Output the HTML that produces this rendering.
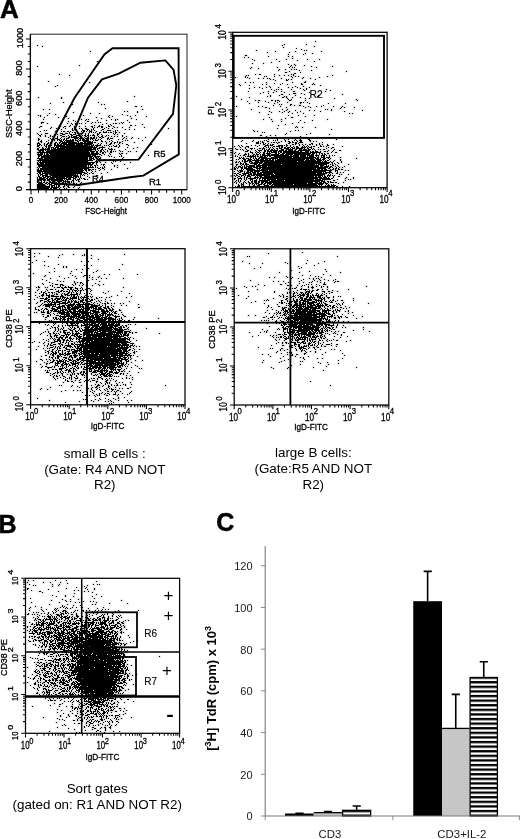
<!DOCTYPE html>
<html><head><meta charset="utf-8"><title>Figure</title>
<style>
html,body{margin:0;padding:0;background:#fff;}
body{width:520px;height:839px;overflow:hidden;}
svg{display:block;font-family:"Liberation Sans", Arial, Helvetica, sans-serif;}
.ax text{stroke:#000;stroke-width:0.3px;}
</style></head><body>
<svg width="520" height="839" viewBox="0 0 520 839">
<rect width="520" height="839" fill="#fff"/>
<g stroke="#000" stroke-width="0.5">
<text transform="translate(0.1 17.5) scale(1.04 1)" font-size="25" font-weight="bold">A</text>
<text x="-1.5" y="532.5" font-size="25" text-anchor="start" font-weight="bold" fill="#000">B</text>
<text x="216.3" y="531.4" font-size="25" text-anchor="start" font-weight="bold" fill="#000">C</text>
</g>
<g id="p1">
<defs><path id="d1" d="M37 45h1M42 46h1M90 51h1M97 61h1M79 65h1M37 66h1M59 74h1M69 75h1M48 81h1M89 82h1M57 85h1M55 86h1M134 96h1M38 97h1M61 97h1M61 98h1M127 101h1M63 102h1M98 102h1M50 103h1M72 104h1M101 104h1M104 104h1M135 106h2M141 106h1M105 108h1M43 109h1M49 109h1M142 109h1M124 111h1M127 111h1M137 111h1M73 112h1M137 112h1M49 113h1M90 113h1M99 113h1M55 114h1M122 114h1M38 115h1M40 115h1M47 115h1M83 115h1M109 115h1M127 115h1M135 115h1M40 116h1M66 116h1M108 116h1M112 116h1M130 116h1M146 116h1M44 117h1M58 117h1M96 117h1M109 117h1M68 118h1M101 118h1M131 118h1M43 119h1M81 119h1M86 119h1M88 119h1M111 119h1M115 119h1M117 119h1M136 119h1M73 120h1M85 120h1M97 120h1M106 120h1M115 120h1M127 120h1M68 121h1M75 121h1M87 121h2M41 122h3M92 122h1M95 122h1M98 122h1M100 122h1M121 122h1M123 122h1M129 122h1M41 123h1M47 123h1M67 123h1M71 123h1M75 123h2M79 123h1M81 123h1M85 123h1M91 123h1M106 123h1M113 123h1M115 123h2M119 123h1M122 123h1M72 124h1M75 124h1M102 124h1M110 124h1M142 124h1M70 125h1M94 125h1M99 125h1M108 125h1M111 125h1M130 125h2M135 125h1M40 126h2M59 126h2M64 126h2M69 126h1M74 126h2M79 126h1M85 126h1M91 126h2M98 126h2M101 126h2M108 126h2M113 126h1M39 127h1M51 127h1M63 127h1M74 127h1M92 127h1M94 127h1M97 127h1M101 127h2M106 127h1M114 127h1M117 127h1M122 127h1M129 127h1M144 127h1M50 128h1M56 128h1M59 128h1M65 128h1M72 128h1M79 128h1M81 128h1M85 128h2M93 128h1M104 128h1M108 128h1M112 128h1M168 128h1M57 129h1M61 129h1M72 129h1M74 129h1M76 129h1M82 129h1M86 129h3M91 129h1M93 129h1M102 129h2M125 129h1M129 129h1M134 129h1M44 130h1M46 130h1M72 130h2M82 130h3M87 130h1M89 130h1M91 130h1M94 130h1M101 130h1M107 130h4M115 130h1M117 130h1M40 131h1M55 131h1M61 131h1M63 131h2M67 131h2M70 131h1M81 131h1M83 131h2M86 131h1M89 131h3M96 131h1M103 131h1M106 131h1M113 131h1M115 131h1M69 132h1M72 132h1M74 132h2M82 132h2M89 132h1M91 132h1M93 132h1M95 132h1M99 132h2M103 132h4M108 132h1M110 132h2M115 132h2M119 132h1M37 133h1M45 133h3M60 133h3M65 133h3M69 133h1M75 133h1M77 133h2M80 133h3M85 133h1M88 133h1M97 133h1M99 133h1M113 133h1M115 133h1M124 133h1M38 134h1M41 134h1M54 134h2M57 134h1M62 134h3M70 134h2M73 134h3M81 134h1M85 134h1M88 134h1M93 134h1M97 134h2M101 134h1M114 134h1M117 134h1M39 135h2M45 135h1M50 135h1M60 135h2M68 135h1M71 135h2M76 135h3M82 135h1M84 135h2M87 135h2M90 135h1M92 135h3M97 135h1M102 135h1M106 135h1M108 135h1M122 135h1M40 136h1M45 136h1M50 136h1M52 136h1M57 136h1M62 136h3M66 136h1M69 136h1M71 136h1M73 136h4M79 136h3M85 136h2M88 136h1M94 136h1M98 136h1M101 136h2M105 136h1M111 136h1M114 136h1M117 136h1M122 136h1M126 136h1M48 137h1M57 137h1M61 137h1M68 137h2M71 137h8M80 137h1M84 137h1M87 137h2M90 137h2M93 137h2M96 137h1M99 137h2M102 137h2M108 137h1M124 137h1M132 137h1M145 137h1M38 138h1M50 138h1M55 138h3M60 138h1M64 138h1M66 138h3M74 138h4M79 138h5M85 138h4M90 138h5M96 138h1M101 138h1M107 138h2M110 138h3M123 138h1M126 138h1M131 138h1M138 138h1M38 139h2M51 139h4M57 139h3M61 139h1M63 139h2M66 139h1M70 139h1M72 139h2M75 139h1M78 139h1M80 139h1M82 139h3M86 139h3M90 139h1M92 139h1M95 139h1M98 139h1M100 139h1M107 139h1M109 139h1M118 139h1M122 139h1M38 140h1M41 140h1M48 140h1M54 140h1M57 140h1M59 140h3M63 140h1M65 140h9M75 140h3M79 140h2M82 140h7M93 140h1M95 140h3M101 140h1M111 140h1M125 140h1M127 140h1M142 140h1M40 141h2M46 141h1M52 141h1M60 141h3M64 141h1M66 141h8M77 141h2M83 141h1M85 141h6M92 141h1M101 141h2M105 141h1M109 141h1M112 141h1M117 141h1M122 141h1M38 142h1M41 142h1M48 142h1M50 142h1M55 142h2M59 142h2M62 142h15M78 142h1M80 142h3M84 142h1M87 142h6M94 142h2M106 142h1M111 142h1M114 142h2M117 142h1M119 142h2M134 142h1M37 143h3M44 143h1M47 143h2M51 143h1M54 143h2M57 143h1M59 143h1M61 143h6M68 143h17M86 143h7M98 143h1M101 143h1M106 143h1M110 143h2M114 143h1M119 143h1M122 143h1M37 144h1M39 144h2M44 144h1M46 144h2M54 144h2M57 144h2M60 144h2M63 144h12M76 144h7M84 144h8M93 144h1M97 144h1M100 144h1M109 144h2M118 144h1M126 144h2M151 144h1M37 145h3M41 145h1M44 145h1M46 145h1M48 145h4M54 145h11M66 145h22M89 145h1M91 145h3M95 145h6M104 145h1M106 145h1M108 145h1M113 145h1M116 145h1M119 145h1M128 145h1M37 146h2M45 146h2M48 146h2M54 146h1M56 146h31M88 146h5M94 146h1M96 146h2M102 146h1M109 146h1M111 146h1M114 146h3M119 146h1M39 147h1M42 147h1M46 147h1M51 147h3M55 147h4M60 147h37M99 147h6M118 147h1M127 147h1M137 147h1M37 148h2M42 148h2M45 148h1M47 148h3M51 148h1M53 148h3M57 148h35M93 148h3M97 148h3M102 148h1M108 148h1M111 148h1M133 148h1M37 149h2M40 149h10M51 149h45M97 149h1M101 149h2M105 149h1M109 149h4M114 149h1M125 149h1M38 150h6M45 150h1M47 150h1M49 150h43M95 150h1M98 150h1M100 150h2M103 150h1M107 150h1M111 150h1M119 150h1M39 151h2M42 151h2M46 151h1M48 151h41M90 151h5M96 151h2M100 151h2M104 151h1M107 151h1M110 151h2M113 151h1M115 151h1M120 151h1M122 151h1M128 151h1M130 151h1M136 151h1M37 152h53M91 152h1M93 152h1M96 152h2M100 152h1M102 152h2M105 152h1M110 152h2M38 153h1M40 153h3M44 153h1M47 153h1M49 153h41M91 153h2M94 153h5M102 153h2M109 153h1M119 153h1M121 153h2M126 153h1M37 154h6M44 154h1M46 154h1M48 154h1M50 154h48M99 154h2M104 154h1M110 154h1M120 154h1M38 155h4M43 155h48M92 155h2M101 155h1M108 155h1M121 155h1M148 155h1M38 156h2M41 156h52M94 156h2M97 156h3M109 156h1M111 156h1M119 156h1M121 156h1M38 157h1M41 157h47M89 157h3M93 157h1M95 157h1M98 157h1M100 157h1M114 157h1M123 157h1M37 158h6M44 158h44M89 158h5M99 158h2M122 158h1M39 159h49M89 159h3M93 159h2M97 159h3M104 159h1M110 159h1M37 160h56M96 160h1M101 160h2M113 160h1M117 160h1M38 161h1M40 161h1M42 161h46M95 161h3M99 161h1M113 161h1M115 161h1M120 161h1M37 162h1M39 162h56M96 162h2M100 162h1M105 162h1M111 162h1M130 162h1M37 163h2M40 163h4M45 163h46M92 163h2M96 163h1M112 163h1M37 164h56M96 164h1M101 164h1M103 164h2M124 164h1M38 165h49M88 165h1M90 165h2M94 165h2M97 165h1M103 165h1M114 165h1M117 165h1M38 166h49M88 166h1M90 166h1M92 166h1M95 166h1M104 166h1M114 166h1M37 167h1M39 167h1M42 167h52M95 167h1M97 167h1M100 167h1M102 167h1M104 167h1M117 167h1M38 168h1M40 168h49M98 168h2M102 168h2M127 168h1M37 169h2M40 169h43M84 169h3M88 169h3M92 169h2M95 169h1M100 169h1M104 169h1M111 169h1M37 170h5M43 170h41M85 170h2M88 170h2M91 170h1M99 170h1M37 171h46M86 171h1M92 171h1M95 171h1M38 172h3M42 172h1M44 172h41M87 172h1M91 172h1M107 172h1M37 173h1M39 173h2M42 173h40M84 173h3M89 173h1M92 173h2M101 173h1M38 174h1M40 174h3M45 174h3M49 174h27M77 174h1M80 174h2M83 174h1M87 174h1M38 175h1M40 175h1M42 175h6M50 175h28M80 175h1M82 175h1M84 175h1M96 175h2M38 176h2M42 176h2M45 176h6M52 176h20M73 176h6M80 176h1M87 176h1M93 176h1M96 176h1M37 177h1M39 177h3M43 177h3M47 177h2M50 177h15M66 177h8M75 177h2M78 177h1M80 177h1M89 177h1M37 178h1M39 178h6M46 178h2M49 178h4M56 178h11M68 178h3M73 178h3M79 178h1M81 178h1M83 178h2M37 179h9M47 179h16M64 179h1M66 179h5M73 179h1M75 179h1M77 179h3M84 179h2M87 179h1M37 180h5M43 180h3M47 180h3M51 180h13M65 180h1M67 180h1M72 180h2M76 180h1M78 180h1M101 180h1M37 181h2M41 181h1M44 181h1M49 181h2M52 181h3M57 181h5M63 181h7M71 181h1M73 181h1M78 181h2M37 182h5M43 182h2M46 182h2M49 182h5M56 182h1M58 182h2M62 182h2M65 182h1M67 182h3M71 182h1M73 182h1M81 182h1M38 183h5M45 183h2M48 183h2M51 183h6M58 183h1M60 183h3M65 183h2M69 183h1M73 183h2M76 183h1M80 183h1M37 184h8M47 184h1M49 184h3M54 184h5M60 184h1M63 184h2M68 184h1M80 184h2M37 185h9M49 185h1M51 185h4M56 185h1M58 185h2M64 185h1M66 185h1M68 185h1M79 185h1M37 186h13M51 186h2M54 186h1M56 186h1M58 186h2M63 186h2M67 186h2M74 186h1M37 187h13M51 187h8M60 187h1M63 187h1M68 187h2M73 187h1M79 187h1M37 188h12M50 188h2M53 188h4M59 188h1M64 188h1M66 188h1M78 188h1"/></defs><use href="#d1" fill="none" stroke="#000" stroke-width="2.2" stroke-linecap="square" opacity="0.13" transform="translate(0,0.5)"/><use href="#d1" fill="none" stroke="#000" stroke-width="1" transform="translate(0,0.5)" shape-rendering="crispEdges"/>
<rect x="30.4" y="34.2" width="156.6" height="155.5" fill="none" stroke="#222" stroke-width="1.0"/>
<path d="M30.4 34.2V189.7H187.0" fill="none" stroke="#000" stroke-width="1.25"/>
<g class="ax">
<path d="M31.0 189.7v4.8M30.4 189.6h-4.3999999999999995M38.5 189.7v3.0M30.4 182.1h-2.6M46.1 189.7v3.0M30.4 174.5h-2.6M53.6 189.7v3.0M30.4 167.0h-2.6M61.1 189.7v4.8M30.4 159.5h-4.3999999999999995M68.7 189.7v3.0M30.4 151.9h-2.6M76.2 189.7v3.0M30.4 144.4h-2.6M83.7 189.7v3.0M30.4 136.9h-2.6M91.3 189.7v4.8M30.4 129.3h-4.3999999999999995M98.8 189.7v3.0M30.4 121.8h-2.6M106.3 189.7v3.0M30.4 114.2h-2.6M113.9 189.7v3.0M30.4 106.7h-2.6M121.4 189.7v4.8M30.4 99.2h-4.3999999999999995M129.0 189.7v3.0M30.4 91.6h-2.6M136.5 189.7v3.0M30.4 84.1h-2.6M144.0 189.7v3.0M30.4 76.6h-2.6M151.6 189.7v4.8M30.4 69.0h-4.3999999999999995M159.1 189.7v3.0M30.4 61.5h-2.6M166.6 189.7v3.0M30.4 54.0h-2.6M174.2 189.7v3.0M30.4 46.4h-2.6M181.7 189.7v4.8M30.4 38.9h-4.3999999999999995" stroke="#000" stroke-width="1.05" fill="none"/>
<text transform="translate(31.0 202.9) scale(0.83 1)" font-size="9.8" text-anchor="middle">0</text>
<text x="22.5" y="188.7" font-size="9.2" text-anchor="middle" transform="rotate(-90 22.5 188.7)">0</text>
<text transform="translate(61.1 202.9) scale(0.83 1)" font-size="9.8" text-anchor="middle">200</text>
<text x="22.5" y="158.6" font-size="9.2" text-anchor="middle" transform="rotate(-90 22.5 158.6)">200</text>
<text transform="translate(91.3 202.9) scale(0.83 1)" font-size="9.8" text-anchor="middle">400</text>
<text x="22.5" y="128.4" font-size="9.2" text-anchor="middle" transform="rotate(-90 22.5 128.4)">400</text>
<text transform="translate(121.4 202.9) scale(0.83 1)" font-size="9.8" text-anchor="middle">600</text>
<text x="22.5" y="98.3" font-size="9.2" text-anchor="middle" transform="rotate(-90 22.5 98.3)">600</text>
<text transform="translate(151.6 202.9) scale(0.83 1)" font-size="9.8" text-anchor="middle">800</text>
<text x="22.5" y="68.1" font-size="9.2" text-anchor="middle" transform="rotate(-90 22.5 68.1)">800</text>
<text transform="translate(181.7 202.9) scale(0.83 1)" font-size="9.8" text-anchor="middle">1000</text>
<text x="22.5" y="38.0" font-size="9.2" text-anchor="middle" transform="rotate(-90 22.5 38.0)">1000</text>
<text transform="translate(106 214.2) scale(0.86 1)" font-size="9.3" text-anchor="middle">FSC-Height</text>
<text x="12.0" y="113.8" font-size="9.2" text-anchor="middle" font-weight="normal" fill="#000" transform="rotate(-90 12.0 113.8)">SSC-Height</text>
<polygon points="112.5,48.3 178.6,48.3 178.8,154.4 143.3,175.6 130,177.3 78,185 55,183.5 47,152 53.5,138 74.6,97.7 104.4,54.4" fill="none" stroke="#000" stroke-width="1.9" stroke-linejoin="miter"/>
<polygon points="102,79.4 118.8,73.6 140.4,62.7 165.4,60.4 173.6,70 176.3,85.4 173,113.8 138.5,159.6 98.3,160.3 75,128.7 88,97.7" fill="none" stroke="#000" stroke-width="1.9" stroke-linejoin="miter"/>
<text x="153.5" y="157.3" font-size="9.5" text-anchor="start" font-weight="normal" fill="#000">R5</text>
<text x="149" y="184.6" font-size="9.5" text-anchor="start" font-weight="normal" fill="#000">R1</text>
<text x="92" y="181.5" font-size="9.5" text-anchor="start" font-weight="normal" fill="#000">R4</text>
</g></g>
<g id="p2">
<defs><path id="d2" d="M315 41h1M284 44h1M306 44h1M282 45h1M314 46h1M283 47h1M296 48h1M301 49h1M256 50h1M304 50h1M306 50h1M275 51h1M295 51h1M321 51h1M267 52h1M289 52h1M305 53h1M312 53h1M288 54h1M303 54h1M245 55h2M268 56h1M288 56h1M292 56h1M244 57h1M248 57h1M292 58h1M252 59h1M276 59h1M286 59h1M307 59h1M319 59h1M254 60h1M297 60h1M279 61h1M314 61h1M271 62h1M252 63h1M263 63h1M288 64h1M294 64h1M291 65h1M295 65h1M304 65h1M290 66h1M311 66h1M332 66h1M251 67h1M277 67h1M289 67h1M292 67h1M294 67h1M316 67h1M250 68h1M258 68h1M279 69h1M285 69h1M291 69h1M294 69h1M296 69h1M278 70h1M299 70h1M311 70h1M289 71h1M346 71h1M285 72h2M300 72h1M294 73h2M255 74h1M259 74h2M274 74h1M291 74h1M293 74h1M246 75h1M248 75h1M279 75h1M284 75h1M288 75h1M293 75h1M332 75h1M245 76h1M264 76h1M266 76h1M274 76h1M291 76h1M295 76h1M298 76h1M327 76h1M235 77h1M245 77h1M247 77h1M292 77h1M303 77h1M319 77h1M249 78h1M258 78h1M263 78h1M267 78h1M269 78h1M281 78h1M302 78h1M310 78h1M270 79h1M273 79h1M286 79h1M288 79h1M291 79h1M315 79h1M275 80h1M286 80h2M305 81h1M245 82h1M250 82h1M253 82h1M266 82h1M292 82h1M304 82h2M274 83h1M282 83h1M301 83h1M313 83h1M239 84h1M262 84h1M266 84h1M280 84h1M287 84h1M301 84h2M312 84h1M314 84h1M240 85h1M249 85h1M320 85h1M269 86h1M295 86h1M303 86h1M254 87h1M259 87h1M266 87h1M270 87h1M278 87h1M288 87h1M292 87h1M297 87h1M309 87h1M249 88h1M262 88h1M300 88h1M306 88h1M271 89h1M276 89h1M278 89h1M281 89h1M291 89h1M303 89h1M306 89h1M326 89h1M274 90h1M304 90h1M330 90h1M248 91h1M268 91h1M276 91h1M281 91h1M293 91h2M325 91h1M263 92h1M273 92h1M284 92h1M309 92h1M260 93h1M268 93h1M293 93h3M301 93h1M281 94h2M289 94h1M304 94h1M342 94h1M270 95h1M279 95h1M295 95h1M318 95h1M236 96h1M267 96h1M270 96h1M284 96h1M286 96h1M317 96h1M249 97h1M282 97h2M286 97h1M292 97h1M300 97h1M287 98h1M305 98h1M309 98h1M334 98h1M241 99h1M288 99h1M291 99h1M356 99h1M255 100h1M258 100h2M271 100h2M275 100h1M277 100h2M289 100h2M305 100h1M357 100h1M247 101h1M265 101h1M275 101h1M279 101h1M258 102h1M268 102h1M277 102h1M287 102h1M300 102h2M303 102h1M307 102h1M249 103h1M274 103h1M300 103h1M309 103h1M328 103h1M345 103h1M279 104h1M281 104h1M290 104h2M273 105h1M290 105h1M294 105h1M299 105h2M323 105h1M236 106h1M258 106h1M262 106h1M280 106h1M303 106h1M308 106h1M316 106h1M321 106h1M333 106h1M342 106h1M265 107h2M286 107h1M305 107h1M310 107h1M341 107h1M344 107h1M354 107h1M269 108h1M340 108h1M251 109h1M282 109h1M287 109h1M325 109h1M327 109h1M331 109h1M286 110h1M295 110h1M309 110h1M314 110h1M331 110h1M362 110h1M269 111h1M279 111h1M284 111h1M289 111h1M300 111h1M320 111h1M344 111h1M259 112h1M271 112h1M282 112h1M288 112h1M297 112h1M292 113h1M303 113h1M349 113h1M352 113h1M268 114h1M288 115h1M298 115h1M314 115h1M236 116h1M305 116h1M269 117h1M291 117h2M285 118h1M263 119h1M271 119h1M281 119h1M327 119h1M300 120h1M312 120h1M272 121h1M281 121h1M298 122h1M304 122h1M292 123h1M285 124h1M278 125h1M296 126h1M295 127h1M297 127h1M302 127h1M315 127h1M277 128h1M331 129h1M253 130h1M295 130h1M298 130h1M254 131h1M257 131h1M290 131h1M262 132h1M264 132h1M286 133h1M310 133h1M285 134h1M306 134h1M329 134h1M260 135h2M270 135h1M275 135h1M266 136h1M300 136h1M286 137h1M288 137h1M290 137h1M293 137h1M296 137h1M298 137h1M302 137h1M306 137h1M317 137h1M272 138h1M276 138h2M292 138h1M294 138h1M299 138h1M307 138h1M309 138h1M317 138h1M268 139h1M277 139h1M284 139h1M288 139h1M295 139h1M300 139h1M308 139h2M336 139h1M242 140h1M253 140h1M264 140h1M266 140h1M273 140h1M275 140h1M277 140h1M285 140h1M294 140h1M296 140h1M299 140h3M309 140h2M241 141h1M252 141h1M258 141h1M260 141h1M262 141h1M267 141h2M281 141h1M285 141h1M288 141h2M292 141h1M297 141h1M300 141h2M310 141h1M313 141h1M316 141h1M256 142h3M262 142h2M271 142h1M273 142h2M276 142h1M278 142h2M289 142h2M292 142h2M295 142h2M299 142h4M322 142h1M246 143h1M256 143h3M260 143h1M263 143h1M265 143h1M268 143h1M277 143h1M288 143h2M295 143h2M298 143h1M311 143h2M319 143h1M263 144h2M267 144h1M270 144h1M272 144h2M286 144h1M292 144h2M295 144h1M299 144h1M302 144h1M305 144h1M309 144h2M312 144h1M316 144h1M319 144h1M322 144h1M327 144h1M333 144h1M238 145h1M241 145h1M251 145h1M255 145h1M259 145h1M265 145h4M270 145h3M278 145h5M284 145h1M286 145h2M290 145h1M299 145h1M303 145h1M307 145h1M316 145h1M320 145h1M327 145h2M234 146h1M239 146h1M242 146h1M246 146h3M257 146h1M264 146h2M268 146h1M273 146h2M276 146h4M281 146h2M286 146h1M290 146h1M293 146h1M296 146h2M302 146h1M304 146h1M306 146h1M308 146h1M311 146h1M313 146h2M320 146h2M323 146h1M326 146h1M342 146h1M240 147h1M245 147h1M248 147h1M263 147h1M266 147h1M268 147h1M270 147h1M272 147h1M279 147h1M281 147h2M284 147h2M287 147h3M291 147h2M294 147h1M296 147h3M301 147h5M307 147h1M309 147h3M318 147h1M328 147h1M332 147h2M235 148h1M245 148h1M250 148h3M254 148h1M259 148h2M262 148h3M269 148h1M273 148h1M276 148h2M279 148h3M284 148h5M290 148h1M292 148h3M296 148h7M304 148h1M307 148h2M311 148h1M313 148h1M326 148h1M331 148h1M236 149h2M240 149h1M242 149h1M246 149h1M251 149h1M257 149h1M262 149h1M264 149h1M266 149h1M268 149h2M271 149h2M274 149h1M277 149h1M281 149h3M286 149h7M295 149h2M299 149h3M303 149h4M308 149h3M312 149h1M314 149h1M318 149h1M320 149h1M323 149h2M334 149h1M243 150h1M247 150h2M255 150h1M258 150h4M264 150h2M267 150h2M270 150h8M279 150h5M285 150h2M288 150h5M294 150h2M298 150h12M315 150h1M328 150h1M333 150h1M339 150h2M245 151h3M250 151h1M256 151h1M259 151h1M264 151h2M267 151h5M273 151h4M278 151h4M283 151h16M300 151h2M305 151h4M310 151h1M312 151h2M315 151h3M320 151h1M324 151h2M327 151h1M332 151h1M235 152h1M250 152h3M255 152h1M257 152h2M260 152h1M263 152h2M267 152h1M269 152h1M271 152h6M278 152h1M280 152h2M283 152h26M310 152h11M331 152h1M335 152h2M234 153h1M239 153h1M245 153h1M248 153h1M252 153h1M256 153h1M259 153h1M263 153h2M266 153h5M275 153h2M278 153h2M282 153h3M286 153h25M312 153h3M316 153h1M319 153h1M321 153h2M324 153h1M327 153h2M238 154h1M244 154h3M248 154h1M253 154h2M256 154h3M260 154h1M262 154h3M267 154h3M271 154h8M280 154h4M285 154h8M294 154h16M311 154h3M316 154h1M319 154h1M322 154h1M324 154h2M235 155h1M240 155h1M243 155h2M248 155h1M250 155h1M252 155h2M255 155h1M257 155h1M260 155h1M262 155h27M290 155h2M293 155h6M300 155h6M307 155h7M315 155h4M321 155h4M326 155h1M329 155h1M332 155h1M334 155h1M235 156h1M237 156h1M245 156h1M247 156h9M257 156h2M260 156h3M264 156h2M267 156h1M269 156h2M274 156h25M300 156h6M307 156h1M309 156h5M316 156h1M318 156h1M321 156h1M323 156h2M329 156h1M239 157h1M241 157h1M243 157h1M250 157h2M253 157h1M255 157h1M259 157h8M271 157h21M293 157h23M317 157h2M321 157h4M326 157h4M340 157h1M239 158h2M242 158h3M246 158h3M250 158h1M253 158h1M255 158h2M258 158h2M261 158h17M279 158h35M315 158h4M320 158h1M323 158h3M328 158h1M330 158h1M356 158h1M236 159h1M238 159h1M243 159h3M248 159h4M254 159h1M256 159h3M260 159h4M265 159h3M269 159h2M272 159h2M275 159h1M277 159h28M306 159h3M310 159h5M316 159h5M322 159h3M329 159h1M340 159h1M242 160h1M244 160h2M247 160h4M252 160h22M275 160h29M305 160h11M317 160h5M323 160h1M325 160h1M327 160h2M334 160h1M340 160h1M236 161h1M239 161h1M242 161h1M244 161h4M249 161h3M255 161h4M260 161h37M298 161h23M322 161h1M324 161h3M330 161h1M333 161h1M341 161h1M235 162h2M238 162h1M240 162h1M244 162h2M249 162h1M251 162h2M254 162h9M264 162h66M331 162h2M337 162h1M341 162h1M240 163h2M243 163h1M245 163h2M250 163h8M259 163h3M263 163h66M332 163h1M334 163h1M338 163h1M236 164h2M240 164h1M242 164h2M245 164h4M254 164h3M258 164h2M262 164h19M282 164h33M316 164h1M318 164h9M330 164h1M332 164h1M335 164h1M348 164h1M236 165h1M241 165h1M244 165h1M246 165h1M249 165h6M256 165h63M320 165h4M326 165h1M328 165h1M332 165h2M337 165h1M235 166h1M238 166h3M242 166h1M244 166h1M246 166h9M256 166h5M262 166h5M268 166h51M320 166h3M324 166h5M330 166h2M335 166h1M338 166h1M344 166h1M234 167h1M236 167h1M238 167h1M240 167h3M244 167h3M248 167h4M253 167h5M259 167h69M329 167h2M332 167h1M336 167h1M339 167h1M342 167h1M234 168h2M237 168h1M241 168h2M244 168h9M256 168h5M262 168h54M317 168h9M328 168h2M333 168h1M335 168h2M338 168h1M234 169h2M241 169h1M243 169h1M246 169h9M257 169h1M259 169h1M261 169h59M321 169h2M324 169h3M330 169h1M332 169h2M335 169h1M338 169h2M341 169h2M237 170h1M239 170h4M247 170h21M269 170h43M313 170h19M335 170h3M345 170h1M348 170h1M234 171h1M238 171h1M240 171h3M244 171h1M247 171h2M250 171h3M254 171h6M262 171h64M329 171h2M335 171h1M337 171h1M239 172h2M244 172h1M246 172h5M252 172h4M257 172h2M260 172h62M323 172h1M325 172h7M337 172h1M340 172h1M343 172h1M234 173h2M237 173h2M242 173h7M250 173h2M253 173h3M257 173h5M263 173h10M274 173h42M317 173h10M329 173h1M332 173h1M336 173h2M236 174h1M239 174h2M243 174h3M248 174h4M253 174h21M275 174h50M328 174h1M330 174h1M339 174h1M341 174h1M348 174h1M234 175h1M236 175h2M241 175h3M245 175h1M247 175h3M251 175h4M256 175h14M271 175h52M324 175h1M327 175h4M332 175h1M334 175h1M235 176h1M238 176h2M241 176h1M244 176h1M247 176h4M255 176h1M257 176h1M259 176h3M264 176h50M315 176h2M318 176h3M322 176h1M324 176h2M327 176h1M329 176h1M333 176h1M338 176h2M237 177h1M240 177h1M244 177h1M246 177h2M250 177h1M254 177h5M260 177h62M323 177h4M328 177h1M333 177h1M346 177h1M353 177h1M234 178h2M238 178h4M244 178h1M246 178h1M248 178h8M257 178h1M259 178h2M262 178h56M319 178h11M331 178h2M345 178h1M353 178h1M234 179h1M238 179h1M241 179h1M244 179h1M246 179h1M250 179h3M256 179h1M259 179h1M262 179h1M264 179h2M267 179h9M277 179h37M315 179h6M322 179h9M337 179h1M348 179h1M350 179h1M236 180h1M238 180h1M240 180h1M245 180h1M250 180h1M252 180h1M254 180h3M259 180h11M271 180h13M285 180h38M324 180h1M333 180h2M345 180h1M235 181h1M238 181h1M240 181h1M244 181h1M248 181h1M251 181h2M254 181h3M258 181h2M261 181h7M269 181h51M321 181h4M327 181h2M330 181h1M234 182h1M236 182h1M239 182h1M243 182h1M245 182h1M248 182h2M251 182h2M254 182h3M258 182h2M261 182h3M265 182h48M315 182h3M319 182h3M323 182h3M328 182h1M330 182h4M335 182h2M343 182h1M236 183h1M241 183h1M243 183h1M246 183h1M249 183h2M252 183h2M255 183h4M261 183h2M264 183h2M267 183h5M273 183h34M308 183h16M325 183h3M338 183h1M238 184h1M241 184h3M249 184h1M252 184h1M254 184h1M256 184h1M258 184h4M263 184h2M267 184h1M269 184h2M272 184h21M294 184h23M318 184h5M326 184h1M328 184h1M331 184h1M333 184h1M238 185h2M241 185h1M243 185h1M249 185h1M253 185h2M257 185h3M264 185h5M271 185h2M274 185h44M319 185h1M321 185h1M325 185h1M327 185h3M331 185h5M235 186h1M237 186h3M241 186h94M336 186h2M342 186h1M349 186h1"/></defs><use href="#d2" fill="none" stroke="#000" stroke-width="2.2" stroke-linecap="square" opacity="0.13" transform="translate(0,0.5)"/><use href="#d2" fill="none" stroke="#000" stroke-width="1" transform="translate(0,0.5)" shape-rendering="crispEdges"/>
<rect x="232.7" y="32.3" width="154.40000000000003" height="155.39999999999998" fill="none" stroke="#000" stroke-width="1.25"/>
<path d="M232.7 187.7v4.3M232.7 187.7h-4.3M244.3 187.7v2.5M232.7 176.0h-2.5M251.1 187.7v2.5M232.7 169.2h-2.5M255.9 187.7v2.5M232.7 164.3h-2.5M259.7 187.7v2.5M232.7 160.5h-2.5M262.7 187.7v2.5M232.7 157.5h-2.5M265.3 187.7v2.5M232.7 154.9h-2.5M267.6 187.7v2.5M232.7 152.6h-2.5M269.5 187.7v2.5M232.7 150.6h-2.5M271.3 187.7v4.3M232.7 148.8h-4.3M282.9 187.7v2.5M232.7 137.2h-2.5M289.7 187.7v2.5M232.7 130.3h-2.5M294.5 187.7v2.5M232.7 125.5h-2.5M298.3 187.7v2.5M232.7 121.7h-2.5M301.3 187.7v2.5M232.7 118.6h-2.5M303.9 187.7v2.5M232.7 116.0h-2.5M306.2 187.7v2.5M232.7 113.8h-2.5M308.1 187.7v2.5M232.7 111.8h-2.5M309.9 187.7v4.3M232.7 110.0h-4.3M321.5 187.7v2.5M232.7 98.3h-2.5M328.3 187.7v2.5M232.7 91.5h-2.5M333.1 187.7v2.5M232.7 86.6h-2.5M336.9 187.7v2.5M232.7 82.8h-2.5M339.9 187.7v2.5M232.7 79.8h-2.5M342.5 187.7v2.5M232.7 77.2h-2.5M344.8 187.7v2.5M232.7 74.9h-2.5M346.7 187.7v2.5M232.7 72.9h-2.5M348.5 187.7v4.3M232.7 71.2h-4.3M360.1 187.7v2.5M232.7 59.5h-2.5M366.9 187.7v2.5M232.7 52.6h-2.5M371.7 187.7v2.5M232.7 47.8h-2.5M375.5 187.7v2.5M232.7 44.0h-2.5M378.5 187.7v2.5M232.7 40.9h-2.5M381.1 187.7v2.5M232.7 38.3h-2.5M383.4 187.7v2.5M232.7 36.1h-2.5M385.3 187.7v2.5M232.7 34.1h-2.5M387.1 187.7v4.3M232.7 32.3h-4.3" stroke="#000" stroke-width="1.05" fill="none"/>
<g class="ax">
<text transform="translate(236.0 203.2) scale(0.82 1)" font-size="10.0" text-anchor="end">10</text>
<text transform="translate(235.6 196.4) scale(0.9 1)" font-size="8.6">0</text>
<text transform="translate(225.8 195.1) rotate(-90) scale(0.85 1)" font-size="10.0">10</text>
<text transform="translate(220.7 183.9) rotate(-90) scale(0.88 1)" font-size="9.0">0</text>
<text transform="translate(274.2 203.2) scale(0.82 1)" font-size="10.0" text-anchor="end">10</text>
<text transform="translate(273.8 196.4) scale(0.9 1)" font-size="8.6">1</text>
<text transform="translate(225.8 156.2) rotate(-90) scale(0.85 1)" font-size="10.0">10</text>
<text transform="translate(220.7 145.0) rotate(-90) scale(0.88 1)" font-size="9.0">1</text>
<text transform="translate(312.3 203.2) scale(0.82 1)" font-size="10.0" text-anchor="end">10</text>
<text transform="translate(311.9 196.4) scale(0.9 1)" font-size="8.6">2</text>
<text transform="translate(225.8 117.4) rotate(-90) scale(0.85 1)" font-size="10.0">10</text>
<text transform="translate(220.7 106.2) rotate(-90) scale(0.88 1)" font-size="9.0">2</text>
<text transform="translate(350.4 203.2) scale(0.82 1)" font-size="10.0" text-anchor="end">10</text>
<text transform="translate(350.0 196.4) scale(0.9 1)" font-size="8.6">3</text>
<text transform="translate(225.8 78.6) rotate(-90) scale(0.85 1)" font-size="10.0">10</text>
<text transform="translate(220.7 67.4) rotate(-90) scale(0.88 1)" font-size="9.0">3</text>
<text transform="translate(388.6 203.2) scale(0.82 1)" font-size="10.0" text-anchor="end">10</text>
<text transform="translate(388.2 196.4) scale(0.9 1)" font-size="8.6">4</text>
<text transform="translate(225.8 39.7) rotate(-90) scale(0.85 1)" font-size="10.0">10</text>
<text transform="translate(220.7 28.5) rotate(-90) scale(0.88 1)" font-size="9.0">4</text>
<text x="214.0" y="110.5" font-size="9.5" text-anchor="middle" transform="rotate(-90 214.0 110.5)">PI</text>
<text transform="translate(308.8 213.7) scale(0.88 1)" font-size="9.1" text-anchor="middle">IgD-FITC</text>
</g>
<rect x="233.7" y="35.8" width="150.3" height="102.10000000000001" fill="none" stroke="#000" stroke-width="1.9"/>
<text x="309.5" y="98.3" font-size="10.3" text-anchor="start" font-weight="normal" fill="#000" stroke="#000" stroke-width="0.15">R2</text>
</g>
<g id="p3">
<defs><path id="d3" d="M34 253h1M39 253h1M62 254h1M73 254h1M84 254h1M124 254h1M59 255h1M82 255h1M84 255h1M91 255h1M34 256h1M48 256h1M58 257h1M87 257h1M91 258h1M98 259h1M36 260h1M44 261h1M81 261h1M88 261h1M32 262h1M58 264h1M122 264h1M44 265h1M84 265h1M91 265h1M48 266h1M63 266h1M66 266h1M63 267h1M66 267h1M54 268h1M86 268h1M88 268h1M76 269h1M82 269h1M119 269h1M97 270h1M54 271h1M71 271h1M96 271h1M49 272h1M81 272h1M93 272h1M33 273h1M70 273h1M104 274h1M109 274h1M137 274h1M45 275h1M72 275h1M84 275h2M89 275h1M44 276h1M59 276h1M75 276h1M83 276h1M99 276h1M68 277h1M89 277h1M92 277h1M98 277h1M50 278h1M64 278h1M76 278h1M101 278h1M106 278h1M123 278h1M42 279h1M92 279h1M96 279h1M46 280h1M57 280h1M88 280h1M60 281h1M63 281h1M74 281h1M87 281h1M99 281h1M49 282h1M74 282h1M77 282h1M80 282h2M42 283h1M52 283h1M75 283h1M80 283h1M82 283h1M95 283h1M43 284h1M55 284h3M60 284h3M72 284h1M75 284h1M83 284h1M98 284h1M103 284h1M50 285h1M52 285h1M60 285h1M62 285h2M73 285h1M79 285h1M82 285h1M86 285h1M92 285h1M99 285h1M38 286h1M52 286h1M60 286h1M65 286h1M68 286h1M36 287h1M38 287h2M45 287h1M47 287h1M54 287h1M57 287h3M61 287h2M64 287h3M68 287h5M75 287h1M81 287h1M123 287h1M62 288h2M70 288h2M75 288h3M80 288h1M82 288h1M88 288h2M38 289h1M46 289h1M50 289h3M55 289h1M63 289h1M67 289h2M70 289h2M73 289h1M77 289h1M82 289h1M85 289h1M90 289h1M37 290h1M47 290h1M58 290h1M61 290h2M69 290h1M72 290h1M74 290h3M78 290h1M80 290h2M83 290h1M87 290h1M91 290h1M41 291h1M45 291h1M56 291h3M60 291h2M63 291h2M66 291h2M69 291h1M72 291h1M75 291h1M77 291h1M80 291h1M90 291h1M108 291h1M121 291h1M35 292h1M41 292h1M43 292h2M48 292h2M51 292h2M54 292h1M58 292h2M68 292h2M71 292h1M73 292h1M76 292h1M80 292h1M103 292h1M39 293h1M43 293h1M45 293h2M52 293h1M56 293h1M62 293h1M64 293h1M67 293h2M71 293h1M76 293h2M80 293h1M84 293h1M89 293h1M105 293h1M129 293h1M42 294h2M46 294h1M49 294h1M54 294h1M56 294h2M61 294h1M64 294h4M70 294h8M79 294h1M91 294h1M35 295h1M41 295h3M46 295h4M51 295h3M61 295h2M65 295h1M67 295h3M71 295h1M73 295h2M77 295h1M85 295h1M117 295h1M39 296h1M42 296h1M48 296h2M51 296h8M60 296h4M71 296h1M73 296h2M76 296h1M78 296h1M81 296h1M84 296h1M86 296h3M90 296h1M92 296h1M111 296h1M131 296h1M37 297h1M46 297h1M48 297h2M56 297h1M60 297h1M62 297h4M67 297h1M70 297h1M72 297h5M78 297h1M80 297h1M82 297h4M91 297h1M96 297h1M99 297h1M101 297h1M106 297h1M109 297h1M126 297h1M40 298h4M45 298h3M51 298h2M55 298h6M62 298h1M64 298h1M66 298h3M70 298h7M78 298h1M81 298h1M83 298h1M88 298h1M96 298h2M34 299h1M44 299h3M48 299h2M52 299h1M54 299h2M57 299h3M61 299h1M63 299h1M65 299h2M69 299h2M72 299h1M78 299h2M82 299h2M85 299h1M89 299h1M91 299h2M94 299h1M105 299h1M40 300h3M47 300h2M52 300h2M56 300h2M62 300h5M68 300h1M71 300h1M73 300h1M75 300h1M80 300h4M85 300h3M90 300h3M98 300h1M101 300h1M110 300h1M40 301h1M44 301h3M48 301h3M52 301h1M54 301h1M56 301h6M65 301h1M68 301h2M71 301h2M74 301h3M78 301h1M80 301h3M86 301h5M96 301h1M99 301h1M105 301h1M129 301h1M37 302h1M44 302h1M47 302h1M49 302h1M51 302h9M62 302h4M67 302h3M71 302h1M74 302h5M80 302h1M82 302h3M91 302h1M94 302h1M100 302h1M107 302h1M36 303h1M42 303h1M48 303h1M50 303h2M54 303h2M59 303h9M70 303h1M73 303h2M78 303h2M83 303h1M85 303h2M88 303h2M93 303h1M97 303h1M102 303h1M104 303h2M107 303h2M111 303h1M114 303h1M120 303h1M123 303h1M41 304h1M44 304h12M57 304h3M65 304h1M68 304h7M76 304h17M94 304h1M99 304h1M105 304h1M138 304h1M40 305h1M43 305h1M45 305h7M53 305h1M55 305h1M59 305h1M62 305h3M66 305h8M75 305h1M77 305h4M82 305h1M85 305h4M91 305h9M102 305h1M105 305h1M111 305h1M121 305h1M126 305h1M38 306h2M45 306h5M52 306h4M58 306h7M67 306h3M71 306h2M74 306h10M85 306h1M87 306h2M90 306h8M100 306h2M105 306h1M107 306h2M113 306h1M35 307h1M49 307h1M52 307h1M56 307h5M62 307h1M64 307h2M67 307h4M72 307h9M82 307h2M85 307h2M88 307h6M95 307h2M98 307h3M103 307h3M107 307h2M111 307h1M138 307h2M35 308h1M42 308h1M45 308h2M51 308h4M57 308h4M62 308h1M65 308h1M67 308h3M71 308h8M81 308h1M83 308h7M91 308h1M93 308h4M98 308h4M104 308h3M108 308h2M112 308h1M35 309h2M38 309h1M41 309h1M44 309h1M46 309h2M52 309h6M60 309h1M62 309h5M68 309h8M77 309h1M79 309h5M85 309h5M93 309h1M95 309h9M106 309h1M109 309h2M112 309h2M119 309h1M38 310h2M43 310h1M48 310h1M50 310h3M54 310h3M58 310h1M60 310h4M65 310h3M69 310h2M73 310h3M78 310h3M82 310h2M85 310h2M88 310h1M90 310h6M98 310h1M101 310h4M106 310h2M109 310h4M119 310h2M41 311h1M43 311h1M47 311h2M51 311h1M53 311h8M62 311h3M67 311h5M73 311h15M90 311h1M92 311h7M101 311h8M111 311h1M113 311h1M115 311h2M34 312h1M36 312h1M41 312h4M47 312h2M50 312h1M58 312h11M70 312h6M77 312h1M79 312h12M93 312h7M102 312h4M107 312h1M109 312h1M112 312h1M114 312h2M121 312h1M47 313h3M53 313h1M57 313h1M59 313h6M66 313h4M71 313h9M81 313h8M90 313h4M95 313h3M101 313h6M109 313h1M111 313h1M114 313h3M42 314h2M50 314h1M54 314h1M61 314h9M72 314h9M82 314h2M85 314h4M90 314h1M92 314h1M94 314h4M99 314h2M102 314h2M105 314h1M107 314h6M118 314h1M122 314h1M47 315h2M50 315h1M56 315h3M60 315h1M64 315h1M66 315h4M71 315h1M73 315h4M78 315h3M82 315h5M88 315h2M91 315h3M95 315h4M100 315h4M105 315h1M107 315h4M112 315h2M115 315h1M123 315h1M43 316h1M47 316h2M59 316h21M81 316h4M86 316h8M95 316h6M102 316h1M105 316h3M109 316h1M114 316h6M124 316h2M45 317h2M53 317h1M55 317h2M60 317h1M62 317h4M68 317h1M70 317h5M76 317h1M78 317h10M89 317h11M101 317h6M108 317h4M115 317h2M121 317h1M134 317h1M53 318h1M55 318h2M58 318h1M60 318h2M63 318h2M67 318h5M73 318h1M75 318h4M80 318h5M86 318h1M88 318h3M92 318h3M96 318h7M104 318h10M115 318h1M119 318h1M121 318h1M158 318h1M45 319h1M54 319h1M56 319h2M59 319h2M62 319h4M67 319h2M70 319h4M77 319h3M83 319h10M94 319h13M108 319h8M117 319h1M119 319h1M122 319h1M133 319h1M49 320h1M51 320h1M60 320h1M62 320h1M64 320h1M67 320h2M72 320h2M76 320h2M79 320h4M84 320h4M89 320h6M96 320h10M108 320h3M112 320h2M115 320h1M118 320h4M124 320h1M128 320h2M39 321h1M44 321h1M48 321h1M53 321h1M60 321h1M63 321h2M67 321h1M72 321h4M78 321h12M91 321h1M93 321h3M97 321h1M100 321h2M103 321h5M109 321h1M112 321h2M117 321h1M124 321h1M39 322h1M44 322h1M56 322h1M62 322h1M64 322h2M67 322h2M75 322h1M79 322h4M84 322h3M88 322h1M91 322h3M95 322h7M104 322h1M106 322h2M109 322h5M116 322h4M124 322h1M126 322h2M39 323h1M53 323h1M55 323h1M62 323h1M66 323h2M70 323h5M76 323h3M83 323h2M86 323h2M89 323h1M91 323h5M98 323h2M101 323h6M108 323h2M111 323h4M116 323h1M118 323h2M45 324h1M48 324h1M54 324h1M67 324h1M71 324h2M75 324h1M77 324h1M81 324h1M84 324h9M94 324h5M100 324h7M108 324h6M115 324h5M128 324h1M130 324h1M135 324h1M47 325h1M53 325h1M58 325h1M62 325h1M65 325h1M67 325h11M81 325h5M87 325h1M89 325h10M100 325h1M102 325h18M122 325h1M125 325h2M51 326h1M58 326h1M62 326h1M69 326h1M72 326h1M77 326h2M81 326h1M85 326h5M92 326h8M101 326h7M109 326h4M114 326h4M120 326h2M123 326h1M126 326h1M52 327h1M54 327h2M57 327h1M63 327h1M70 327h1M72 327h1M74 327h1M77 327h2M84 327h6M91 327h3M95 327h3M99 327h15M115 327h1M118 327h4M123 327h2M128 327h1M50 328h1M55 328h1M58 328h1M61 328h1M63 328h1M68 328h1M71 328h1M74 328h2M79 328h1M81 328h1M85 328h1M87 328h2M90 328h3M94 328h18M113 328h5M119 328h3M127 328h1M146 328h1M47 329h1M55 329h1M58 329h1M60 329h1M62 329h1M69 329h2M73 329h2M79 329h1M82 329h1M84 329h29M114 329h9M124 329h3M128 329h1M55 330h1M58 330h1M63 330h4M70 330h3M75 330h1M78 330h1M80 330h1M82 330h4M87 330h11M99 330h13M113 330h1M115 330h9M130 330h1M45 331h1M48 331h1M54 331h1M57 331h1M60 331h1M63 331h2M72 331h1M75 331h3M80 331h2M84 331h2M88 331h6M95 331h1M97 331h4M102 331h14M117 331h6M124 331h6M43 332h1M48 332h1M53 332h1M60 332h1M63 332h3M67 332h3M72 332h1M76 332h1M78 332h1M83 332h10M94 332h4M100 332h6M108 332h15M124 332h3M129 332h2M132 332h1M135 332h2M41 333h1M49 333h2M53 333h2M56 333h1M58 333h1M64 333h2M67 333h1M70 333h1M72 333h2M75 333h5M83 333h3M87 333h3M91 333h2M94 333h1M96 333h17M114 333h1M116 333h5M122 333h1M124 333h3M128 333h1M132 333h1M159 333h1M40 334h1M50 334h1M55 334h1M59 334h1M65 334h5M72 334h1M74 334h4M80 334h2M83 334h3M87 334h32M120 334h2M123 334h3M127 334h2M47 335h1M50 335h1M54 335h4M61 335h4M66 335h1M68 335h1M71 335h4M76 335h2M79 335h1M83 335h2M86 335h26M113 335h7M121 335h1M123 335h6M50 336h2M54 336h1M56 336h1M60 336h1M63 336h1M66 336h2M70 336h1M74 336h2M77 336h5M83 336h1M87 336h4M92 336h13M106 336h18M127 336h1M51 337h1M56 337h2M59 337h4M65 337h3M69 337h2M76 337h1M78 337h3M83 337h4M88 337h9M98 337h4M103 337h15M119 337h2M124 337h2M128 337h1M130 337h1M50 338h1M52 338h1M54 338h1M58 338h2M61 338h2M65 338h1M69 338h3M73 338h1M76 338h2M79 338h33M113 338h15M129 338h1M133 338h1M43 339h1M48 339h1M53 339h1M55 339h1M57 339h3M62 339h3M67 339h1M70 339h1M72 339h1M76 339h1M78 339h2M82 339h44M127 339h3M46 340h1M54 340h1M57 340h4M63 340h2M66 340h3M70 340h1M79 340h1M81 340h12M94 340h32M129 340h1M136 340h1M34 341h1M48 341h1M54 341h4M59 341h2M63 341h1M66 341h1M69 341h1M71 341h2M76 341h1M78 341h7M86 341h4M91 341h37M130 341h1M32 342h1M39 342h1M44 342h1M51 342h4M60 342h1M62 342h2M66 342h1M68 342h1M74 342h1M77 342h1M79 342h2M82 342h2M85 342h1M87 342h23M111 342h19M43 343h1M48 343h1M51 343h1M58 343h3M65 343h1M68 343h1M71 343h2M74 343h1M80 343h1M82 343h5M89 343h29M119 343h1M121 343h6M130 343h4M48 344h1M50 344h1M53 344h3M59 344h1M61 344h2M68 344h1M71 344h3M75 344h9M85 344h36M122 344h7M132 344h1M44 345h1M47 345h1M50 345h3M60 345h1M62 345h1M65 345h6M74 345h1M77 345h1M79 345h50M130 345h3M134 345h1M38 346h1M47 346h1M53 346h1M55 346h1M58 346h1M60 346h1M64 346h1M67 346h5M74 346h2M77 346h3M81 346h26M108 346h12M121 346h2M124 346h1M126 346h2M129 346h2M133 346h1M136 346h1M139 346h1M50 347h3M55 347h1M57 347h1M59 347h1M63 347h2M66 347h1M70 347h1M72 347h1M75 347h1M77 347h2M80 347h38M119 347h10M130 347h1M43 348h1M47 348h1M49 348h1M54 348h1M57 348h1M59 348h2M65 348h2M76 348h6M83 348h33M117 348h11M133 348h1M36 349h1M52 349h2M57 349h1M66 349h4M71 349h4M77 349h1M79 349h3M83 349h5M89 349h32M122 349h5M129 349h2M134 349h1M139 349h1M45 350h1M49 350h1M52 350h1M56 350h1M58 350h3M62 350h1M64 350h2M69 350h1M71 350h1M74 350h8M83 350h4M88 350h34M123 350h4M128 350h2M132 350h1M47 351h2M51 351h2M55 351h1M58 351h1M62 351h1M67 351h3M72 351h6M79 351h1M81 351h41M123 351h5M134 351h1M136 351h1M45 352h1M48 352h1M52 352h2M55 352h2M58 352h1M62 352h1M65 352h1M68 352h1M72 352h5M80 352h2M83 352h35M119 352h6M126 352h1M128 352h1M133 352h2M48 353h1M51 353h1M53 353h4M59 353h2M62 353h1M64 353h2M67 353h4M72 353h3M76 353h1M78 353h2M81 353h9M91 353h3M95 353h4M100 353h28M130 353h1M134 353h1M50 354h1M52 354h2M55 354h1M59 354h5M65 354h5M74 354h2M79 354h3M83 354h35M119 354h4M125 354h2M128 354h2M45 355h2M52 355h2M57 355h2M60 355h1M64 355h2M67 355h1M70 355h2M73 355h5M79 355h1M82 355h1M84 355h14M99 355h11M111 355h21M133 355h1M41 356h1M49 356h1M53 356h1M57 356h3M61 356h1M69 356h3M74 356h3M80 356h36M117 356h1M119 356h4M124 356h1M127 356h1M130 356h1M137 356h1M49 357h1M51 357h2M55 357h1M57 357h2M63 357h4M69 357h1M71 357h2M74 357h2M79 357h2M83 357h28M113 357h8M123 357h4M128 357h1M130 357h1M52 358h1M55 358h1M57 358h2M65 358h2M68 358h1M72 358h1M77 358h1M79 358h6M86 358h17M104 358h13M118 358h5M124 358h2M128 358h1M131 358h1M40 359h2M46 359h1M49 359h1M53 359h1M59 359h1M62 359h1M64 359h1M68 359h3M72 359h1M76 359h5M82 359h2M86 359h3M90 359h30M121 359h7M130 359h1M42 360h1M50 360h1M53 360h2M56 360h2M59 360h3M63 360h1M65 360h2M69 360h3M73 360h3M77 360h2M81 360h12M94 360h28M125 360h2M128 360h1M135 360h1M142 360h1M36 361h1M47 361h1M52 361h2M57 361h7M65 361h1M67 361h2M72 361h2M75 361h2M80 361h1M83 361h1M86 361h10M98 361h2M101 361h18M120 361h2M126 361h3M44 362h1M50 362h3M55 362h1M57 362h2M60 362h1M63 362h3M70 362h2M73 362h1M75 362h1M77 362h3M81 362h2M87 362h1M89 362h25M115 362h5M121 362h1M123 362h1M126 362h1M131 362h1M46 363h2M49 363h1M55 363h5M62 363h2M65 363h2M68 363h1M71 363h8M81 363h1M84 363h3M88 363h28M117 363h7M126 363h1M40 364h1M46 364h1M55 364h1M57 364h1M61 364h2M64 364h4M69 364h1M72 364h4M78 364h1M80 364h1M82 364h3M86 364h2M89 364h3M93 364h1M95 364h8M104 364h15M121 364h3M125 364h1M128 364h1M55 365h3M61 365h3M66 365h1M69 365h2M72 365h1M75 365h1M77 365h1M88 365h5M94 365h22M117 365h1M119 365h4M124 365h1M135 365h1M42 366h1M45 366h2M52 366h1M54 366h1M58 366h1M60 366h1M62 366h1M66 366h1M68 366h1M74 366h2M77 366h1M81 366h1M84 366h1M86 366h3M90 366h8M99 366h2M102 366h6M109 366h6M117 366h4M122 366h1M125 366h1M127 366h1M137 366h1M41 367h1M47 367h5M54 367h1M62 367h1M64 367h1M66 367h1M72 367h1M76 367h1M78 367h1M81 367h1M84 367h4M89 367h2M92 367h10M103 367h3M107 367h10M118 367h3M131 367h1M48 368h1M59 368h5M65 368h1M70 368h2M73 368h2M77 368h2M83 368h1M86 368h1M88 368h6M95 368h2M98 368h3M102 368h4M107 368h1M109 368h5M115 368h1M121 368h1M126 368h1M139 368h1M141 368h1M52 369h2M55 369h2M59 369h3M66 369h2M69 369h1M73 369h1M75 369h1M83 369h4M89 369h3M94 369h1M98 369h2M101 369h2M104 369h1M106 369h1M110 369h6M117 369h4M124 369h1M45 370h1M47 370h1M49 370h1M57 370h1M61 370h1M65 370h2M68 370h3M73 370h1M76 370h1M89 370h1M91 370h1M94 370h5M100 370h8M111 370h1M113 370h1M115 370h1M118 370h2M123 370h1M47 371h1M57 371h1M60 371h1M62 371h1M68 371h3M73 371h2M81 371h1M83 371h2M87 371h1M89 371h3M93 371h3M97 371h6M104 371h1M106 371h2M109 371h4M116 371h1M119 371h1M121 371h2M124 371h1M129 371h1M46 372h3M55 372h1M57 372h2M60 372h1M63 372h1M65 372h1M68 372h1M71 372h1M73 372h1M80 372h2M83 372h2M86 372h1M92 372h5M100 372h3M105 372h2M109 372h4M114 372h5M138 372h1M50 373h1M53 373h2M57 373h1M61 373h2M72 373h1M74 373h1M77 373h2M80 373h1M83 373h1M85 373h1M91 373h1M99 373h1M101 373h5M107 373h3M113 373h1M115 373h3M120 373h2M123 373h1M127 373h1M52 374h1M62 374h1M67 374h1M70 374h1M72 374h1M74 374h1M78 374h1M81 374h3M91 374h1M95 374h1M97 374h1M100 374h5M106 374h2M109 374h3M120 374h1M123 374h1M50 375h1M54 375h1M56 375h1M59 375h1M62 375h1M70 375h2M76 375h1M82 375h1M84 375h1M93 375h2M96 375h1M100 375h1M103 375h4M108 375h3M112 375h1M126 375h1M130 375h1M53 376h1M56 376h2M63 376h2M71 376h1M76 376h1M98 376h1M101 376h1M104 376h4M109 376h3M114 376h1M116 376h1M118 376h1M53 377h1M60 377h1M65 377h1M69 377h1M71 377h1M74 377h1M77 377h1M84 377h1M98 377h3M126 377h1M132 377h1M54 378h1M57 378h1M63 378h1M67 378h1M69 378h1M71 378h1M75 378h3M91 378h1M93 378h2M97 378h1M101 378h2M106 378h1M109 378h1M111 378h1M122 378h1M126 378h1M129 378h1M55 379h1M65 379h1M71 379h1M80 379h1M89 379h1M97 379h1M102 379h1M105 379h1M107 379h1M113 379h1M132 379h1M65 380h1M67 380h1M75 380h1M79 380h1M85 380h1M88 380h1M92 380h3M106 380h2M110 380h1M116 380h1M67 381h2M71 381h2M84 381h1M90 381h1M96 381h2M105 381h2M115 381h1M63 382h1M73 382h1M79 382h2M96 382h1M100 382h1M106 382h2M109 382h1M119 382h1M122 382h1M130 382h1M101 383h1M105 383h1M107 383h1M109 383h1M116 383h1M95 384h1M98 384h1M105 384h1M111 384h1M117 384h1M123 384h1M125 384h1M131 384h1M59 385h1M61 385h1M72 385h1M81 385h1M91 385h1M97 385h3M103 385h1M108 385h1M111 385h1M114 385h1M116 385h2M120 385h1M125 385h1M165 385h1M71 386h1M77 386h1M96 386h2M102 386h1M108 386h2M50 387h1M79 387h1M92 387h1M95 387h2M99 387h1M108 387h1M115 387h1M130 387h1M41 388h1M86 388h1M88 388h1M91 388h1M97 388h1M106 388h1M109 388h1M111 388h1M119 388h1M122 388h1M127 388h2M40 389h1M47 389h1M91 389h1M96 389h1M99 389h1M104 389h1M107 389h1M111 389h3M115 389h1M65 390h1M73 390h1M77 390h1M80 390h1M86 390h2M92 390h1M100 390h1M105 390h1M112 390h1M117 390h2M61 391h1M90 391h1M94 391h1M107 391h2M111 391h1M114 391h1M116 391h1M120 391h1M131 391h1M82 392h1M92 392h1M102 392h1M115 392h1M130 392h1M93 393h1M99 393h1M101 393h1M105 393h1M107 393h2M115 393h1M122 393h1M129 393h1M96 394h1M99 394h1M104 394h1M109 394h1M113 394h3M118 394h1M127 394h1M85 395h1M89 395h1M94 395h1M97 395h1M99 395h1M106 395h2M117 395h1M95 396h1M118 397h1M124 397h1M37 398h1M99 398h1M105 398h1M113 398h1M118 398h1M83 399h1M85 399h1M95 399h1M100 399h1M108 399h1M115 399h1M49 400h1M91 400h1M98 400h1M110 400h1M118 400h1M127 400h1M131 400h1M79 401h1M87 401h1M93 401h1M105 401h1M108 401h1M111 401h1M65 402h1M113 402h1M128 402h1M109 403h1M111 403h1"/></defs><use href="#d3" fill="none" stroke="#000" stroke-width="2.2" stroke-linecap="square" opacity="0.13" transform="translate(0,0.5)"/><use href="#d3" fill="none" stroke="#000" stroke-width="1" transform="translate(0,0.5)" shape-rendering="crispEdges"/>
<rect x="30.6" y="248.7" width="154.4" height="156.10000000000002" fill="none" stroke="#000" stroke-width="1.25"/>
<path d="M30.6 404.8v4.3M30.6 404.8h-4.3M42.2 404.8v2.5M30.6 393.1h-2.5M49.0 404.8v2.5M30.6 386.2h-2.5M53.8 404.8v2.5M30.6 381.3h-2.5M57.6 404.8v2.5M30.6 377.5h-2.5M60.6 404.8v2.5M30.6 374.4h-2.5M63.2 404.8v2.5M30.6 371.8h-2.5M65.5 404.8v2.5M30.6 369.6h-2.5M67.4 404.8v2.5M30.6 367.6h-2.5M69.2 404.8v4.3M30.6 365.8h-4.3M80.8 404.8v2.5M30.6 354.0h-2.5M87.6 404.8v2.5M30.6 347.2h-2.5M92.4 404.8v2.5M30.6 342.3h-2.5M96.2 404.8v2.5M30.6 338.5h-2.5M99.2 404.8v2.5M30.6 335.4h-2.5M101.8 404.8v2.5M30.6 332.8h-2.5M104.1 404.8v2.5M30.6 330.5h-2.5M106.0 404.8v2.5M30.6 328.5h-2.5M107.8 404.8v4.3M30.6 326.8h-4.3M119.4 404.8v2.5M30.6 315.0h-2.5M126.2 404.8v2.5M30.6 308.1h-2.5M131.0 404.8v2.5M30.6 303.3h-2.5M134.8 404.8v2.5M30.6 299.5h-2.5M137.8 404.8v2.5M30.6 296.4h-2.5M140.4 404.8v2.5M30.6 293.8h-2.5M142.7 404.8v2.5M30.6 291.5h-2.5M144.6 404.8v2.5M30.6 289.5h-2.5M146.4 404.8v4.3M30.6 287.7h-4.3M158.0 404.8v2.5M30.6 276.0h-2.5M164.8 404.8v2.5M30.6 269.1h-2.5M169.6 404.8v2.5M30.6 264.2h-2.5M173.4 404.8v2.5M30.6 260.4h-2.5M176.4 404.8v2.5M30.6 257.4h-2.5M179.0 404.8v2.5M30.6 254.7h-2.5M181.3 404.8v2.5M30.6 252.5h-2.5M183.2 404.8v2.5M30.6 250.5h-2.5M185.0 404.8v4.3M30.6 248.7h-4.3" stroke="#000" stroke-width="1.05" fill="none"/>
<g class="ax">
<text transform="translate(34.4 420.3) scale(0.82 1)" font-size="10.0" text-anchor="end">10</text>
<text transform="translate(34.0 413.5) scale(0.9 1)" font-size="8.6">0</text>
<text transform="translate(23.1 411.2) rotate(-90) scale(0.82 1)" font-size="10">10</text>
<text transform="translate(18.7 400.5) rotate(-90) scale(0.88 1)" font-size="9.0">0</text>
<text transform="translate(72.4 420.3) scale(0.82 1)" font-size="10.0" text-anchor="end">10</text>
<text transform="translate(72.0 413.5) scale(0.9 1)" font-size="8.6">1</text>
<text transform="translate(23.1 372.5) rotate(-90) scale(0.82 1)" font-size="10">10</text>
<text transform="translate(18.7 361.8) rotate(-90) scale(0.88 1)" font-size="9.0">1</text>
<text transform="translate(110.4 420.3) scale(0.82 1)" font-size="10.0" text-anchor="end">10</text>
<text transform="translate(110.0 413.5) scale(0.9 1)" font-size="8.6">2</text>
<text transform="translate(23.1 333.8) rotate(-90) scale(0.82 1)" font-size="10">10</text>
<text transform="translate(18.7 323.1) rotate(-90) scale(0.88 1)" font-size="9.0">2</text>
<text transform="translate(148.4 420.3) scale(0.82 1)" font-size="10.0" text-anchor="end">10</text>
<text transform="translate(148.0 413.5) scale(0.9 1)" font-size="8.6">3</text>
<text transform="translate(23.1 295.0) rotate(-90) scale(0.82 1)" font-size="10">10</text>
<text transform="translate(18.7 284.3) rotate(-90) scale(0.88 1)" font-size="9.0">3</text>
<text transform="translate(186.4 420.3) scale(0.82 1)" font-size="10.0" text-anchor="end">10</text>
<text transform="translate(186.0 413.5) scale(0.9 1)" font-size="8.6">4</text>
<text transform="translate(23.1 256.3) rotate(-90) scale(0.82 1)" font-size="10">10</text>
<text transform="translate(18.7 245.6) rotate(-90) scale(0.88 1)" font-size="9.0">4</text>
<text x="11.8" y="328.6" font-size="9.2" text-anchor="middle" transform="rotate(-90 11.8 328.6)">CD38 PE</text>
<text transform="translate(107.5 429) scale(0.93 1)" font-size="8.8" text-anchor="middle">IgD-FITC</text>
</g>
<path d="M87 248.7V404.8M30.6 322H185.0" stroke="#000" stroke-width="1.9" fill="none"/>
</g>
<g id="p4">
<defs><path id="d4" d="M302 252h1M268 253h1M247 256h1M249 256h1M337 256h1M307 260h1M242 261h1M324 261h1M285 262h1M249 263h1M262 263h1M287 263h1M306 263h1M318 263h1M314 265h1M298 266h1M260 267h1M301 267h1M254 268h1M299 268h1M325 269h1M291 270h1M309 271h1M326 271h1M279 272h1M299 272h1M340 272h1M323 274h1M302 275h1M310 275h1M330 275h1M286 276h1M315 276h1M318 276h1M269 277h1M274 277h1M287 277h1M292 277h1M321 277h1M291 278h1M298 278h1M309 278h1M313 278h1M316 278h1M318 278h1M303 279h1M313 279h1M319 279h1M324 279h1M335 279h1M250 280h1M301 280h1M314 280h1M320 280h1M328 280h1M333 280h1M273 281h1M278 281h1M283 281h1M299 281h1M312 281h1M317 281h1M335 281h1M337 281h2M288 282h1M303 282h1M309 282h1M311 282h1M320 282h1M324 282h1M334 282h1M285 283h1M299 283h1M324 283h1M258 284h1M280 284h2M306 284h1M308 284h1M311 284h1M316 284h1M323 284h3M264 285h1M287 285h2M291 285h1M297 285h1M302 285h1M304 285h1M319 285h1M244 286h1M252 286h1M255 286h1M301 286h1M308 286h1M312 286h1M316 286h1M321 286h1M323 286h1M327 286h1M366 286h1M246 287h1M296 287h1M308 287h1M311 287h3M321 287h1M327 287h1M236 288h1M286 288h1M289 288h1M292 288h1M294 288h2M301 288h1M312 288h1M257 289h1M288 289h1M300 289h2M303 289h4M308 289h1M317 289h2M322 289h1M327 289h1M348 289h1M297 290h1M305 290h1M309 290h1M312 290h2M316 290h2M332 290h1M248 291h1M274 291h1M293 291h1M306 291h4M311 291h2M322 291h3M328 291h2M337 291h1M274 292h1M287 292h1M289 292h2M294 292h1M296 292h1M300 292h3M305 292h2M308 292h2M311 292h1M324 292h1M331 292h2M287 293h1M293 293h2M297 293h1M301 293h1M303 293h1M305 293h1M307 293h2M310 293h1M316 293h2M322 293h1M326 293h1M329 293h1M282 294h1M293 294h1M299 294h2M302 294h3M306 294h3M312 294h1M316 294h1M318 294h1M321 294h1M324 294h1M238 295h1M279 295h1M283 295h1M293 295h1M295 295h1M297 295h2M300 295h5M307 295h2M310 295h1M312 295h2M315 295h4M320 295h3M326 295h1M248 296h1M280 296h1M283 296h1M286 296h2M292 296h3M299 296h2M303 296h1M306 296h3M310 296h2M313 296h1M317 296h4M326 296h1M333 296h1M338 296h1M340 296h1M283 297h1M291 297h1M295 297h1M298 297h1M300 297h3M306 297h2M309 297h6M317 297h4M322 297h1M324 297h1M327 297h3M333 297h1M246 298h1M273 298h1M286 298h2M293 298h1M300 298h3M304 298h3M309 298h2M312 298h1M314 298h1M319 298h3M323 298h2M328 298h1M353 298h1M267 299h1M285 299h2M293 299h1M296 299h2M299 299h1M301 299h2M304 299h8M313 299h4M318 299h1M321 299h2M324 299h1M333 299h1M264 300h1M266 300h1M268 300h1M281 300h2M287 300h1M293 300h2M296 300h2M300 300h6M307 300h5M315 300h7M324 300h1M330 300h1M332 300h2M337 300h1M341 300h2M353 300h1M255 301h1M281 301h1M287 301h1M289 301h4M294 301h4M299 301h2M303 301h6M312 301h3M316 301h1M318 301h1M320 301h2M325 301h2M329 301h1M331 301h1M335 301h1M251 302h1M279 302h1M281 302h2M284 302h1M289 302h3M294 302h3M299 302h2M302 302h2M305 302h1M307 302h10M319 302h1M321 302h1M323 302h1M330 302h3M343 302h1M264 303h1M281 303h2M286 303h1M288 303h2M295 303h3M299 303h2M302 303h4M307 303h7M317 303h3M321 303h1M324 303h2M336 303h1M338 303h1M342 303h1M368 303h1M277 304h1M289 304h1M291 304h1M294 304h4M299 304h7M307 304h1M309 304h3M313 304h2M316 304h3M320 304h1M322 304h1M325 304h3M337 304h1M339 304h1M342 304h1M268 305h1M286 305h1M288 305h1M290 305h2M293 305h9M303 305h1M305 305h1M307 305h2M310 305h6M317 305h7M325 305h2M329 305h2M333 305h2M340 305h1M268 306h1M278 306h2M289 306h1M292 306h3M296 306h2M299 306h7M307 306h6M315 306h6M322 306h1M324 306h1M327 306h2M330 306h1M332 306h2M336 306h1M345 306h1M267 307h1M271 307h1M282 307h1M284 307h3M290 307h1M292 307h2M295 307h7M303 307h1M305 307h12M318 307h3M324 307h1M332 307h3M337 307h1M340 307h2M349 307h1M282 308h3M288 308h1M291 308h1M294 308h1M296 308h1M298 308h5M304 308h5M310 308h10M321 308h1M325 308h1M327 308h1M330 308h1M332 308h1M343 308h1M346 308h1M272 309h1M282 309h2M285 309h1M288 309h3M292 309h2M295 309h16M312 309h4M320 309h1M322 309h1M324 309h1M327 309h2M335 309h1M337 309h1M340 309h1M267 310h1M276 310h1M281 310h1M283 310h1M285 310h3M289 310h2M292 310h3M296 310h5M302 310h6M309 310h11M322 310h9M333 310h1M335 310h1M337 310h3M348 310h1M278 311h1M284 311h4M289 311h6M296 311h20M317 311h3M322 311h5M328 311h1M332 311h2M336 311h1M339 311h1M345 311h1M348 311h1M265 312h1M276 312h1M278 312h1M280 312h1M283 312h1M285 312h1M287 312h2M290 312h2M293 312h1M295 312h11M307 312h10M319 312h2M322 312h1M324 312h3M328 312h1M333 312h1M336 312h1M352 312h1M269 313h1M274 313h1M277 313h1M279 313h2M284 313h2M287 313h1M291 313h21M313 313h2M316 313h9M326 313h4M333 313h2M348 313h1M276 314h1M283 314h2M286 314h1M288 314h1M290 314h1M294 314h32M328 314h3M332 314h1M342 314h1M248 315h1M255 315h1M273 315h1M280 315h1M282 315h1M284 315h2M289 315h9M299 315h18M319 315h1M321 315h6M331 315h2M334 315h1M337 315h1M353 315h1M266 316h1M272 316h1M277 316h1M286 316h1M288 316h1M291 316h2M294 316h18M313 316h12M327 316h6M338 316h1M340 316h2M345 316h1M362 316h1M263 317h2M270 317h3M274 317h1M279 317h1M281 317h1M285 317h1M287 317h33M321 317h2M324 317h1M327 317h1M329 317h1M331 317h1M334 317h2M338 317h2M341 317h1M346 317h2M268 318h1M278 318h1M283 318h1M285 318h32M319 318h7M327 318h1M334 318h2M339 318h1M356 318h1M272 319h1M284 319h1M287 319h4M293 319h29M323 319h1M325 319h3M329 319h1M261 320h1M264 320h1M266 320h1M268 320h1M276 320h1M280 320h1M286 320h1M288 320h1M291 320h2M294 320h5M300 320h22M326 320h1M328 320h2M335 320h1M338 320h1M275 321h2M281 321h3M287 321h2M291 321h5M297 321h1M299 321h18M318 321h3M322 321h2M326 321h5M332 321h1M334 321h1M338 321h1M343 321h1M348 321h1M277 322h3M281 322h1M283 322h1M285 322h1M287 322h1M290 322h2M293 322h3M297 322h23M321 322h4M326 322h1M328 322h1M332 322h3M355 322h1M267 323h1M276 323h1M279 323h1M283 323h3M290 323h3M294 323h19M314 323h12M333 323h1M281 324h1M283 324h4M288 324h10M299 324h6M306 324h7M316 324h7M324 324h6M333 324h1M337 324h1M281 325h2M284 325h1M289 325h8M298 325h4M303 325h6M310 325h5M316 325h4M321 325h2M325 325h2M328 325h6M337 325h1M343 325h1M269 326h1M283 326h1M286 326h25M312 326h7M320 326h1M323 326h1M325 326h2M331 326h1M336 326h1M282 327h2M285 327h1M288 327h1M291 327h1M293 327h27M323 327h1M325 327h1M327 327h3M332 327h2M336 327h1M342 327h1M345 327h1M363 327h1M278 328h1M283 328h5M289 328h2M293 328h1M295 328h2M298 328h4M303 328h11M315 328h4M321 328h2M324 328h1M326 328h1M329 328h2M332 328h1M262 329h1M277 329h1M279 329h1M283 329h3M287 329h1M289 329h1M291 329h4M298 329h21M320 329h1M322 329h1M325 329h1M327 329h1M331 329h1M333 329h2M363 329h1M267 330h1M283 330h1M287 330h1M289 330h2M292 330h18M311 330h2M314 330h6M321 330h2M324 330h1M326 330h2M329 330h1M353 330h1M264 331h1M266 331h1M283 331h1M287 331h1M289 331h6M297 331h11M309 331h2M312 331h2M315 331h2M318 331h2M321 331h2M325 331h1M327 331h1M331 331h1M335 331h1M338 331h1M369 331h1M249 332h1M260 332h1M266 332h1M275 332h1M284 332h2M287 332h3M291 332h4M296 332h3M301 332h6M308 332h4M313 332h3M317 332h1M319 332h5M334 332h1M343 332h2M284 333h1M288 333h3M292 333h2M295 333h1M298 333h9M308 333h7M316 333h2M319 333h3M325 333h1M327 333h1M333 333h1M335 333h1M278 334h3M282 334h1M284 334h3M289 334h1M291 334h2M294 334h6M301 334h14M321 334h2M329 334h1M337 334h1M341 334h1M258 335h1M270 335h1M273 335h1M276 335h1M283 335h1M289 335h1M292 335h1M294 335h3M298 335h2M301 335h1M304 335h1M306 335h5M313 335h1M315 335h1M317 335h1M320 335h2M324 335h1M341 335h1M252 336h1M272 336h1M280 336h2M284 336h2M288 336h1M290 336h4M297 336h1M299 336h1M301 336h1M303 336h3M308 336h3M312 336h3M316 336h3M320 336h1M322 336h1M324 336h1M334 336h1M347 336h1M273 337h1M276 337h1M278 337h1M280 337h2M283 337h1M286 337h1M288 337h1M292 337h1M294 337h1M296 337h3M300 337h8M310 337h1M312 337h5M320 337h2M325 337h1M340 337h1M284 338h5M292 338h1M294 338h1M296 338h1M298 338h3M302 338h1M304 338h2M307 338h1M309 338h1M311 338h1M315 338h1M318 338h1M321 338h1M323 338h2M275 339h1M279 339h1M285 339h2M290 339h3M295 339h1M297 339h9M307 339h1M309 339h1M311 339h5M319 339h1M327 339h1M333 339h1M276 340h1M284 340h1M290 340h1M292 340h1M295 340h4M304 340h1M307 340h1M309 340h2M312 340h1M319 340h2M322 340h1M326 340h1M329 340h1M331 340h1M336 340h2M350 340h1M291 341h1M297 341h1M302 341h3M307 341h1M310 341h1M312 341h1M314 341h2M318 341h1M327 341h1M346 341h1M278 342h1M282 342h1M285 342h2M291 342h5M297 342h3M301 342h3M305 342h1M309 342h1M311 342h1M313 342h2M318 342h1M323 342h1M276 343h1M282 343h1M286 343h1M288 343h1M294 343h2M300 343h1M303 343h3M308 343h3M315 343h1M318 343h1M320 343h1M331 343h1M294 344h3M298 344h2M308 344h2M312 344h1M314 344h1M318 344h1M322 344h1M326 344h4M336 344h2M271 345h1M282 345h2M291 345h2M294 345h1M298 345h2M304 345h1M306 345h1M308 345h1M310 345h3M314 345h1M317 345h1M321 345h1M331 345h1M289 346h1M291 346h1M295 346h1M298 346h2M301 346h1M303 346h4M308 346h1M316 346h1M321 346h1M324 346h2M336 346h1M258 347h1M291 347h2M299 347h5M309 347h1M313 347h2M317 347h2M270 348h1M272 348h1M281 348h2M295 348h1M299 348h3M303 348h3M308 348h1M314 348h1M280 349h1M287 349h1M296 349h1M300 349h1M302 349h1M306 349h1M315 349h1M320 349h1M331 349h1M334 349h1M280 350h1M284 350h1M296 350h1M301 350h2M304 350h1M340 350h1M277 351h1M301 351h1M305 351h1M310 351h1M315 351h1M276 352h1M287 352h1M289 352h1M291 352h1M306 352h1M315 352h1M325 352h1M281 353h1M291 353h1M304 353h2M342 353h1M262 354h1M268 354h1M287 354h1M292 354h1M296 354h2M304 354h1M322 354h1M291 355h2M344 355h1M270 356h1M283 356h1M295 356h1M308 356h1M290 357h1M300 357h1M303 357h1M280 358h1M303 358h1M317 358h1M322 358h1M342 358h1M288 359h1M304 359h1M263 360h1M284 360h1M338 360h1M281 361h1M300 361h1M302 361h1M262 362h1M279 362h1M318 362h1M327 362h1M320 363h1M338 363h1M300 364h1M328 364h1M291 365h1M326 366h1M271 367h1M288 367h1M313 367h1M356 367h1M273 368h1M287 368h1M290 368h1M323 370h1M310 381h1M330 385h1"/></defs><use href="#d4" fill="none" stroke="#000" stroke-width="2.2" stroke-linecap="square" opacity="0.13" transform="translate(0,0.5)"/><use href="#d4" fill="none" stroke="#000" stroke-width="1" transform="translate(0,0.5)" shape-rendering="crispEdges"/>
<rect x="234.2" y="248.8" width="154.60000000000002" height="156.2" fill="none" stroke="#000" stroke-width="1.25"/>
<path d="M234.2 405.0v4.3M234.2 405.0h-4.3M245.8 405.0v2.5M234.2 393.2h-2.5M252.6 405.0v2.5M234.2 386.4h-2.5M257.5 405.0v2.5M234.2 381.5h-2.5M261.2 405.0v2.5M234.2 377.7h-2.5M264.3 405.0v2.5M234.2 374.6h-2.5M266.9 405.0v2.5M234.2 372.0h-2.5M269.1 405.0v2.5M234.2 369.7h-2.5M271.1 405.0v2.5M234.2 367.7h-2.5M272.9 405.0v4.3M234.2 365.9h-4.3M284.5 405.0v2.5M234.2 354.2h-2.5M291.3 405.0v2.5M234.2 347.3h-2.5M296.1 405.0v2.5M234.2 342.4h-2.5M299.9 405.0v2.5M234.2 338.7h-2.5M302.9 405.0v2.5M234.2 335.6h-2.5M305.5 405.0v2.5M234.2 332.9h-2.5M307.8 405.0v2.5M234.2 330.7h-2.5M309.7 405.0v2.5M234.2 328.7h-2.5M311.5 405.0v4.3M234.2 326.9h-4.3M323.1 405.0v2.5M234.2 315.1h-2.5M329.9 405.0v2.5M234.2 308.3h-2.5M334.8 405.0v2.5M234.2 303.4h-2.5M338.5 405.0v2.5M234.2 299.6h-2.5M341.6 405.0v2.5M234.2 296.5h-2.5M344.2 405.0v2.5M234.2 293.9h-2.5M346.4 405.0v2.5M234.2 291.6h-2.5M348.4 405.0v2.5M234.2 289.6h-2.5M350.1 405.0v4.3M234.2 287.9h-4.3M361.8 405.0v2.5M234.2 276.1h-2.5M368.6 405.0v2.5M234.2 269.2h-2.5M373.4 405.0v2.5M234.2 264.3h-2.5M377.2 405.0v2.5M234.2 260.6h-2.5M380.2 405.0v2.5M234.2 257.5h-2.5M382.8 405.0v2.5M234.2 254.8h-2.5M385.1 405.0v2.5M234.2 252.6h-2.5M387.0 405.0v2.5M234.2 250.6h-2.5M388.8 405.0v4.3M234.2 248.8h-4.3" stroke="#000" stroke-width="1.05" fill="none"/>
<g class="ax">
<text transform="translate(238.0 420.5) scale(0.82 1)" font-size="10.0" text-anchor="end">10</text>
<text transform="translate(237.6 413.7) scale(0.9 1)" font-size="8.6">0</text>
<text transform="translate(226.7 411.4) rotate(-90) scale(0.82 1)" font-size="10">10</text>
<text transform="translate(222.3 400.7) rotate(-90) scale(0.88 1)" font-size="9.0">0</text>
<text transform="translate(276.1 420.5) scale(0.82 1)" font-size="10.0" text-anchor="end">10</text>
<text transform="translate(275.6 413.7) scale(0.9 1)" font-size="8.6">1</text>
<text transform="translate(226.7 372.6) rotate(-90) scale(0.82 1)" font-size="10">10</text>
<text transform="translate(222.3 361.9) rotate(-90) scale(0.88 1)" font-size="9.0">1</text>
<text transform="translate(314.1 420.5) scale(0.82 1)" font-size="10.0" text-anchor="end">10</text>
<text transform="translate(313.7 413.7) scale(0.9 1)" font-size="8.6">2</text>
<text transform="translate(226.7 333.9) rotate(-90) scale(0.82 1)" font-size="10">10</text>
<text transform="translate(222.3 323.2) rotate(-90) scale(0.88 1)" font-size="9.0">2</text>
<text transform="translate(352.1 420.5) scale(0.82 1)" font-size="10.0" text-anchor="end">10</text>
<text transform="translate(351.7 413.7) scale(0.9 1)" font-size="8.6">3</text>
<text transform="translate(226.7 295.1) rotate(-90) scale(0.82 1)" font-size="10">10</text>
<text transform="translate(222.3 284.4) rotate(-90) scale(0.88 1)" font-size="9.0">3</text>
<text transform="translate(390.2 420.5) scale(0.82 1)" font-size="10.0" text-anchor="end">10</text>
<text transform="translate(389.8 413.7) scale(0.9 1)" font-size="8.6">4</text>
<text transform="translate(226.7 256.4) rotate(-90) scale(0.82 1)" font-size="10">10</text>
<text transform="translate(222.3 245.7) rotate(-90) scale(0.88 1)" font-size="9.0">4</text>
<text x="215.3" y="329.6" font-size="9.2" text-anchor="middle" transform="rotate(-90 215.3 329.6)">CD38 PE</text>
<text transform="translate(311 430) scale(0.93 1)" font-size="8.8" text-anchor="middle">IgD-FITC</text>
</g>
<path d="M290.4 248.8V405.0M234.2 322.7H388.8" stroke="#000" stroke-width="1.8" fill="none"/>
</g>
<text x="104.8" y="457.8" font-size="13.4" text-anchor="middle" font-weight="normal" fill="#000">small B cells :</text>
<text x="104.8" y="473.8" font-size="13.4" text-anchor="middle" font-weight="normal" fill="#000">(Gate: R4 AND NOT</text>
<text x="104.8" y="489.3" font-size="13.4" text-anchor="middle" font-weight="normal" fill="#000">R2)</text>
<text x="313.3" y="457.3" font-size="13.4" text-anchor="middle" font-weight="normal" fill="#000">large B cells:</text>
<text x="313.3" y="473.3" font-size="13.4" text-anchor="middle" font-weight="normal" fill="#000">(Gate:R5 AND NOT</text>
<text x="313.3" y="489.0" font-size="13.4" text-anchor="middle" font-weight="normal" fill="#000">R2)</text>
<text x="97.2" y="793.4" font-size="13.4" text-anchor="middle" font-weight="normal" fill="#000">Sort gates</text>
<text x="97.2" y="808.8" font-size="13.4" text-anchor="middle" font-weight="normal" fill="#000">(gated on: R1 AND NOT R2)</text>
<g id="pB">
<defs><path id="d5" d="M28 580h1M33 580h1M55 580h1M66 580h1M96 581h1M27 582h1M43 582h1M50 582h1M60 582h1M67 583h1M29 584h1M52 584h1M59 584h1M93 584h1M97 584h1M99 584h1M33 585h1M35 585h1M58 585h1M87 585h1M52 586h1M84 586h1M76 587h1M86 587h1M27 588h2M66 588h1M85 588h1M94 588h1M27 589h1M48 589h1M87 589h1M94 589h1M31 590h1M74 590h1M78 590h1M39 591h2M58 591h1M84 591h1M88 591h1M42 592h1M92 592h1M74 593h1M96 594h1M52 595h1M65 595h1M56 596h1M65 596h1M73 596h1M92 596h1M101 596h1M30 598h1M81 598h1M94 598h1M62 599h1M70 599h1M78 599h1M51 600h1M65 600h1M121 600h1M66 601h1M70 601h1M83 601h1M90 601h1M93 601h1M31 602h1M59 602h1M75 602h1M79 602h1M96 602h1M109 603h1M127 603h1M49 604h1M67 604h1M92 604h1M95 604h1M62 605h1M73 605h1M80 605h1M35 606h1M62 606h1M64 606h1M30 607h1M41 607h1M60 607h1M63 607h1M66 607h1M72 607h1M76 607h1M81 607h2M103 607h1M29 608h1M55 608h1M57 608h1M65 608h1M67 608h1M70 608h1M88 608h1M97 608h1M41 609h1M46 609h1M54 609h1M56 609h1M102 609h1M105 609h1M108 609h1M29 610h1M42 610h1M55 610h1M58 610h1M63 610h3M75 610h1M77 610h1M82 610h2M86 610h1M89 610h1M95 610h1M98 610h1M101 610h1M118 610h1M138 610h1M43 611h1M52 611h1M56 611h1M62 611h2M65 611h2M74 611h1M83 611h1M92 611h1M94 611h1M97 611h1M102 611h1M105 611h1M115 611h1M119 611h1M33 612h1M36 612h1M38 612h1M48 612h1M53 612h1M55 612h1M60 612h1M65 612h1M67 612h1M71 612h1M73 612h1M85 612h1M92 612h1M106 612h1M28 613h1M41 613h1M44 613h1M48 613h1M53 613h1M61 613h3M65 613h2M68 613h1M76 613h1M81 613h1M93 613h1M97 613h1M107 613h1M112 613h1M27 614h2M32 614h1M34 614h1M37 614h1M47 614h1M50 614h1M56 614h3M60 614h2M63 614h1M71 614h2M76 614h1M89 614h1M96 614h1M102 614h1M104 614h1M107 614h1M113 614h1M39 615h1M48 615h1M51 615h1M57 615h3M61 615h1M67 615h1M76 615h2M87 615h1M92 615h1M101 615h1M103 615h1M112 615h1M118 615h1M120 615h1M37 616h1M42 616h1M44 616h1M47 616h4M52 616h1M54 616h1M56 616h1M59 616h1M61 616h2M64 616h3M69 616h1M72 616h1M76 616h3M82 616h1M89 616h1M99 616h2M103 616h1M108 616h1M112 616h1M116 616h1M119 616h1M33 617h1M38 617h1M48 617h3M52 617h1M54 617h1M56 617h1M60 617h2M63 617h3M67 617h3M71 617h1M74 617h1M77 617h1M85 617h1M87 617h1M97 617h2M102 617h3M108 617h1M117 617h1M121 617h1M35 618h1M37 618h1M44 618h1M46 618h1M49 618h2M53 618h3M57 618h1M61 618h2M65 618h4M72 618h1M74 618h3M79 618h2M86 618h3M90 618h1M93 618h2M97 618h1M99 618h2M102 618h1M104 618h1M107 618h2M110 618h1M112 618h1M118 618h1M35 619h1M38 619h3M43 619h1M45 619h8M54 619h3M59 619h1M61 619h1M65 619h1M68 619h1M71 619h2M74 619h1M80 619h1M88 619h2M92 619h2M95 619h2M98 619h3M104 619h1M107 619h2M116 619h2M34 620h1M36 620h1M40 620h1M42 620h2M45 620h1M50 620h1M52 620h1M54 620h1M56 620h2M64 620h1M67 620h1M69 620h2M76 620h5M83 620h1M85 620h1M88 620h3M93 620h5M99 620h2M103 620h6M110 620h1M112 620h2M115 620h2M125 620h1M128 620h1M38 621h1M41 621h1M43 621h2M50 621h2M53 621h2M56 621h1M59 621h1M61 621h1M67 621h1M69 621h2M73 621h1M75 621h1M80 621h1M85 621h1M92 621h2M100 621h1M102 621h1M104 621h3M109 621h1M112 621h2M119 621h1M123 621h1M29 622h1M36 622h1M38 622h3M42 622h2M46 622h2M49 622h1M51 622h1M53 622h2M57 622h3M63 622h4M68 622h1M70 622h1M74 622h1M76 622h1M78 622h1M82 622h1M84 622h2M87 622h8M96 622h1M98 622h1M100 622h6M108 622h1M111 622h3M117 622h2M121 622h2M32 623h1M36 623h1M38 623h1M41 623h5M47 623h1M49 623h6M58 623h1M62 623h2M65 623h1M67 623h4M72 623h8M81 623h1M85 623h1M88 623h1M90 623h4M96 623h1M98 623h1M100 623h6M109 623h3M113 623h1M117 623h3M122 623h2M31 624h2M34 624h1M36 624h4M41 624h3M46 624h1M48 624h6M56 624h1M60 624h2M63 624h1M65 624h1M69 624h1M72 624h4M78 624h1M82 624h1M84 624h3M88 624h3M92 624h2M95 624h1M99 624h4M104 624h3M109 624h1M115 624h2M120 624h1M36 625h2M39 625h5M47 625h3M54 625h4M60 625h2M63 625h2M66 625h1M68 625h1M70 625h2M76 625h1M82 625h5M88 625h2M91 625h2M95 625h4M101 625h1M105 625h3M109 625h1M111 625h5M117 625h1M120 625h1M123 625h1M27 626h1M30 626h1M34 626h2M41 626h1M43 626h1M46 626h1M48 626h1M50 626h1M56 626h1M58 626h4M63 626h1M65 626h5M72 626h1M76 626h3M80 626h6M88 626h2M91 626h1M95 626h1M101 626h3M105 626h1M107 626h1M110 626h1M114 626h2M117 626h2M121 626h1M124 626h1M27 627h1M33 627h2M37 627h1M39 627h2M43 627h1M46 627h5M52 627h1M54 627h1M56 627h3M62 627h3M66 627h5M74 627h4M84 627h3M88 627h1M91 627h1M94 627h1M96 627h3M100 627h5M107 627h1M110 627h5M116 627h1M119 627h2M124 627h1M33 628h1M35 628h2M38 628h2M41 628h1M44 628h3M48 628h1M50 628h4M55 628h1M57 628h5M63 628h1M65 628h1M69 628h1M72 628h5M80 628h1M82 628h3M86 628h2M90 628h1M92 628h8M101 628h1M103 628h2M106 628h3M110 628h3M116 628h3M121 628h1M30 629h1M32 629h1M34 629h1M38 629h7M46 629h3M50 629h1M53 629h3M57 629h1M60 629h1M63 629h4M68 629h6M76 629h3M80 629h2M84 629h1M86 629h1M89 629h1M91 629h3M97 629h5M104 629h4M109 629h3M120 629h2M126 629h1M27 630h1M30 630h1M33 630h5M40 630h2M43 630h1M50 630h1M54 630h5M61 630h1M63 630h2M66 630h2M71 630h3M75 630h2M80 630h1M82 630h6M91 630h5M98 630h6M108 630h1M112 630h2M120 630h1M29 631h1M32 631h1M34 631h3M40 631h1M46 631h4M51 631h1M53 631h1M55 631h1M58 631h1M61 631h3M67 631h1M69 631h1M71 631h5M77 631h3M82 631h8M91 631h3M96 631h8M106 631h4M111 631h2M114 631h2M117 631h1M121 631h1M32 632h1M35 632h3M39 632h2M42 632h4M47 632h6M54 632h2M57 632h3M61 632h4M67 632h4M73 632h2M77 632h1M79 632h2M82 632h4M88 632h2M92 632h1M95 632h12M109 632h4M115 632h2M120 632h2M123 632h1M29 633h6M37 633h1M39 633h4M44 633h1M47 633h6M55 633h2M58 633h6M65 633h5M71 633h4M77 633h11M89 633h10M100 633h3M104 633h3M108 633h1M110 633h1M112 633h1M114 633h2M117 633h1M121 633h1M33 634h1M37 634h3M42 634h4M47 634h3M54 634h1M57 634h4M62 634h3M67 634h1M69 634h3M73 634h4M79 634h4M84 634h1M86 634h5M92 634h8M101 634h5M107 634h4M114 634h1M116 634h2M41 635h1M44 635h2M49 635h1M51 635h1M53 635h4M58 635h5M65 635h2M68 635h1M70 635h3M74 635h4M79 635h4M85 635h12M98 635h5M105 635h4M112 635h2M115 635h2M128 635h1M29 636h1M31 636h2M34 636h2M39 636h1M41 636h3M45 636h2M48 636h2M51 636h2M54 636h4M59 636h2M62 636h4M67 636h2M71 636h3M75 636h3M79 636h1M81 636h2M85 636h18M104 636h2M107 636h7M115 636h2M120 636h1M29 637h1M34 637h1M37 637h3M42 637h2M45 637h1M47 637h2M50 637h2M53 637h1M56 637h6M63 637h1M65 637h1M67 637h6M74 637h10M85 637h4M90 637h13M104 637h4M111 637h1M113 637h1M115 637h1M117 637h1M120 637h1M129 637h1M32 638h1M38 638h1M40 638h1M43 638h1M46 638h1M48 638h1M54 638h3M58 638h2M61 638h1M63 638h7M72 638h6M79 638h7M87 638h4M92 638h6M99 638h5M105 638h1M107 638h2M110 638h6M117 638h1M119 638h1M34 639h2M41 639h3M47 639h2M51 639h1M54 639h1M56 639h5M62 639h3M67 639h3M71 639h7M79 639h8M88 639h13M102 639h4M107 639h1M109 639h3M113 639h2M116 639h2M119 639h1M28 640h1M33 640h1M35 640h2M38 640h4M44 640h3M49 640h2M52 640h2M55 640h1M57 640h7M65 640h1M67 640h5M73 640h10M85 640h30M117 640h1M119 640h2M122 640h1M137 640h1M29 641h2M33 641h1M39 641h1M44 641h4M50 641h3M55 641h1M57 641h1M61 641h3M65 641h2M69 641h17M87 641h25M113 641h2M133 641h1M40 642h1M42 642h1M44 642h1M47 642h1M50 642h2M55 642h1M58 642h7M67 642h3M71 642h9M81 642h32M114 642h3M119 642h1M130 642h1M42 643h1M44 643h1M47 643h1M49 643h1M52 643h4M57 643h21M79 643h3M83 643h28M112 643h7M120 643h2M123 643h1M126 643h1M33 644h1M35 644h1M43 644h2M46 644h1M49 644h4M56 644h1M58 644h6M67 644h2M70 644h4M75 644h1M77 644h28M106 644h11M118 644h1M121 644h1M124 644h2M35 645h1M39 645h1M42 645h1M44 645h1M46 645h1M50 645h1M52 645h3M56 645h4M61 645h5M68 645h4M73 645h1M75 645h29M105 645h6M112 645h3M120 645h1M124 645h1M41 646h2M45 646h2M49 646h3M53 646h1M55 646h1M57 646h4M62 646h1M64 646h1M66 646h7M74 646h15M90 646h17M108 646h1M110 646h3M114 646h3M38 647h1M41 647h1M45 647h1M49 647h1M52 647h1M54 647h2M58 647h2M61 647h2M64 647h2M67 647h3M72 647h3M76 647h20M97 647h13M111 647h1M113 647h6M120 647h1M125 647h1M50 648h1M52 648h5M58 648h1M60 648h2M64 648h1M66 648h2M69 648h1M71 648h1M73 648h2M76 648h3M80 648h3M84 648h27M112 648h5M119 648h1M121 648h1M42 649h1M44 649h1M48 649h3M53 649h2M57 649h1M60 649h5M68 649h1M71 649h1M73 649h41M115 649h5M121 649h2M124 649h1M40 650h1M44 650h1M49 650h1M54 650h1M63 650h9M74 650h4M80 650h39M121 650h1M124 650h1M127 650h1M38 651h1M41 651h1M48 651h1M50 651h3M55 651h1M60 651h7M70 651h3M74 651h4M79 651h14M94 651h10M105 651h1M107 651h15M123 651h1M125 651h1M43 652h3M47 652h2M55 652h2M58 652h1M62 652h1M64 652h5M70 652h1M72 652h1M74 652h4M79 652h38M118 652h2M121 652h1M126 652h1M39 653h1M43 653h2M46 653h2M53 653h2M57 653h1M66 653h1M70 653h8M79 653h3M83 653h9M93 653h31M44 654h1M46 654h1M50 654h3M58 654h1M60 654h4M65 654h3M70 654h3M74 654h2M77 654h5M83 654h8M92 654h15M108 654h8M117 654h1M119 654h1M121 654h1M123 654h2M38 655h1M56 655h1M58 655h1M60 655h1M67 655h1M70 655h3M76 655h7M84 655h2M87 655h9M97 655h15M113 655h1M115 655h6M123 655h2M48 656h1M50 656h2M53 656h1M56 656h1M59 656h1M63 656h1M65 656h1M68 656h1M71 656h2M74 656h1M76 656h12M89 656h2M92 656h18M111 656h7M119 656h2M122 656h2M125 656h1M159 656h1M30 657h1M66 657h2M72 657h5M78 657h11M90 657h24M115 657h6M122 657h5M32 658h1M35 658h1M37 658h1M44 658h1M52 658h1M55 658h1M59 658h2M63 658h2M66 658h3M72 658h7M80 658h41M122 658h2M40 659h3M54 659h7M63 659h2M66 659h1M68 659h1M70 659h1M72 659h1M74 659h1M76 659h2M79 659h20M100 659h14M115 659h1M117 659h1M119 659h2M122 659h1M38 660h1M45 660h1M48 660h4M53 660h1M56 660h1M58 660h2M61 660h1M63 660h1M65 660h1M68 660h1M71 660h3M75 660h1M77 660h4M82 660h12M95 660h8M104 660h11M116 660h3M120 660h3M124 660h2M127 660h1M52 661h2M55 661h1M60 661h1M64 661h1M67 661h1M69 661h1M71 661h5M77 661h47M125 661h1M34 662h1M37 662h2M40 662h2M46 662h1M50 662h1M53 662h1M55 662h4M63 662h2M68 662h1M76 662h30M107 662h16M124 662h2M39 663h1M43 663h2M48 663h3M58 663h1M61 663h2M69 663h1M71 663h2M75 663h1M77 663h44M122 663h3M36 664h1M42 664h1M44 664h1M46 664h2M50 664h3M55 664h1M58 664h1M61 664h1M63 664h1M65 664h1M67 664h4M72 664h4M77 664h5M83 664h39M123 664h2M127 664h1M37 665h2M41 665h1M44 665h1M46 665h2M49 665h1M51 665h1M53 665h1M55 665h4M60 665h1M62 665h3M67 665h2M70 665h1M72 665h4M77 665h2M80 665h32M113 665h2M116 665h1M118 665h3M122 665h3M131 665h1M36 666h1M39 666h2M42 666h1M44 666h3M50 666h2M54 666h2M57 666h2M60 666h1M63 666h1M69 666h5M75 666h29M105 666h20M126 666h1M27 667h1M44 667h1M47 667h2M54 667h2M61 667h1M63 667h1M65 667h1M69 667h1M71 667h3M75 667h19M95 667h19M115 667h6M123 667h1M125 667h1M127 667h1M40 668h1M42 668h4M49 668h2M54 668h2M58 668h2M61 668h2M64 668h1M66 668h1M69 668h1M71 668h2M74 668h45M120 668h3M124 668h2M127 668h1M36 669h1M43 669h2M49 669h1M53 669h1M55 669h2M62 669h1M64 669h1M68 669h1M70 669h2M74 669h15M90 669h18M109 669h11M121 669h2M126 669h2M35 670h1M38 670h1M41 670h2M44 670h2M53 670h1M55 670h1M58 670h2M62 670h2M69 670h42M112 670h12M125 670h2M128 670h1M34 671h2M37 671h1M39 671h1M46 671h4M54 671h1M57 671h1M59 671h2M62 671h2M65 671h3M72 671h36M109 671h10M120 671h4M125 671h1M35 672h2M39 672h1M42 672h1M45 672h1M47 672h1M51 672h1M55 672h2M59 672h1M61 672h1M63 672h2M66 672h1M68 672h2M71 672h6M78 672h43M122 672h2M125 672h1M37 673h2M44 673h1M46 673h3M50 673h3M56 673h1M64 673h4M71 673h3M75 673h1M77 673h47M125 673h2M129 673h1M32 674h1M39 674h2M43 674h1M45 674h1M48 674h1M52 674h1M54 674h1M56 674h1M59 674h1M63 674h1M68 674h2M71 674h1M73 674h43M117 674h2M124 674h2M127 674h1M136 674h1M36 675h2M43 675h4M51 675h1M54 675h2M57 675h2M62 675h1M65 675h3M69 675h6M77 675h32M110 675h8M119 675h4M127 675h2M132 675h1M35 676h1M39 676h1M44 676h2M48 676h3M52 676h1M57 676h2M67 676h4M76 676h46M124 676h1M127 676h2M28 677h1M34 677h1M40 677h1M45 677h3M49 677h1M53 677h1M57 677h3M61 677h3M65 677h1M68 677h2M72 677h1M74 677h1M76 677h44M121 677h1M127 677h1M30 678h1M33 678h2M38 678h1M40 678h2M43 678h1M52 678h1M54 678h4M61 678h1M63 678h1M68 678h1M70 678h2M73 678h9M83 678h31M115 678h2M118 678h3M123 678h3M127 678h1M33 679h1M40 679h1M43 679h2M49 679h1M52 679h2M55 679h2M60 679h1M62 679h3M69 679h3M75 679h11M87 679h33M122 679h3M129 679h1M131 679h1M37 680h1M40 680h1M45 680h2M48 680h3M52 680h2M55 680h3M59 680h2M62 680h3M66 680h1M68 680h2M71 680h1M77 680h36M114 680h6M121 680h2M124 680h2M129 680h1M37 681h1M45 681h2M49 681h1M55 681h1M60 681h2M63 681h1M65 681h3M69 681h1M73 681h1M75 681h2M78 681h39M119 681h1M123 681h2M27 682h1M35 682h1M38 682h1M40 682h1M43 682h2M47 682h2M50 682h3M54 682h1M57 682h1M59 682h6M67 682h2M72 682h3M76 682h2M80 682h37M118 682h1M120 682h2M123 682h3M34 683h2M42 683h1M48 683h1M51 683h5M59 683h1M62 683h4M71 683h2M74 683h2M77 683h4M82 683h34M117 683h6M126 683h1M34 684h2M38 684h1M40 684h1M44 684h1M50 684h1M53 684h1M55 684h1M60 684h1M62 684h2M66 684h3M71 684h4M76 684h41M124 684h1M133 684h1M30 685h1M38 685h1M40 685h2M44 685h1M47 685h1M51 685h1M54 685h4M64 685h5M71 685h1M74 685h3M78 685h2M81 685h34M116 685h3M123 685h1M125 685h1M38 686h1M43 686h1M45 686h3M49 686h1M54 686h1M57 686h1M59 686h2M69 686h2M73 686h6M80 686h7M88 686h24M113 686h3M117 686h5M33 687h1M39 687h1M48 687h1M52 687h1M61 687h1M64 687h1M67 687h1M69 687h2M72 687h1M74 687h7M82 687h35M119 687h1M121 687h2M34 688h1M37 688h1M43 688h3M53 688h1M55 688h1M58 688h1M62 688h3M67 688h1M69 688h2M73 688h1M75 688h1M77 688h1M79 688h32M112 688h3M116 688h1M119 688h1M122 688h2M37 689h1M43 689h1M45 689h2M48 689h1M52 689h1M60 689h2M65 689h1M67 689h1M69 689h1M72 689h1M76 689h1M78 689h39M119 689h2M128 689h1M38 690h1M46 690h1M48 690h4M55 690h3M62 690h3M66 690h1M68 690h1M71 690h1M76 690h4M81 690h2M84 690h9M94 690h23M118 690h4M125 690h1M43 691h1M46 691h2M49 691h1M54 691h1M61 691h4M66 691h2M69 691h1M71 691h1M75 691h1M78 691h2M81 691h32M114 691h1M116 691h2M119 691h1M37 692h1M42 692h1M44 692h1M46 692h4M55 692h1M59 692h2M70 692h1M73 692h1M76 692h1M78 692h1M82 692h32M115 692h2M118 692h1M123 692h1M36 693h2M44 693h1M47 693h1M49 693h1M53 693h1M58 693h2M62 693h1M65 693h2M69 693h2M72 693h1M74 693h1M80 693h1M83 693h6M90 693h4M95 693h12M108 693h6M118 693h1M120 693h1M122 693h1M39 694h1M43 694h1M46 694h1M48 694h2M51 694h1M55 694h2M60 694h1M62 694h2M67 694h1M69 694h5M75 694h1M78 694h1M82 694h1M85 694h2M88 694h25M114 694h2M40 695h1M48 695h1M52 695h1M57 695h2M66 695h1M70 695h1M78 695h16M95 695h2M98 695h1M101 695h2M104 695h7M113 695h2M118 695h2M40 696h1M45 696h1M50 696h2M54 696h1M60 696h1M62 696h1M71 696h1M75 696h2M83 696h6M90 696h6M97 696h6M104 696h3M108 696h1M110 696h2M114 696h1M116 696h3M47 697h1M51 697h1M59 697h1M67 697h2M71 697h1M74 697h1M76 697h1M81 697h2M84 697h1M86 697h2M89 697h2M92 697h7M100 697h1M102 697h5M108 697h1M110 697h1M115 697h1M123 697h1M45 698h1M49 698h1M53 698h1M57 698h1M59 698h1M64 698h1M68 698h1M73 698h1M81 698h1M83 698h4M88 698h11M100 698h2M103 698h3M107 698h7M115 698h1M120 698h1M50 699h1M61 699h1M72 699h1M80 699h2M84 699h2M88 699h6M95 699h1M97 699h7M105 699h1M107 699h2M114 699h2M121 699h1M127 699h2M48 700h1M50 700h3M54 700h2M60 700h1M71 700h1M76 700h1M78 700h1M84 700h1M86 700h1M88 700h1M91 700h5M98 700h2M101 700h1M103 700h5M109 700h1M111 700h2M64 701h1M68 701h1M70 701h1M73 701h1M77 701h2M81 701h1M84 701h8M93 701h8M102 701h3M111 701h1M117 701h1M133 701h1M72 702h1M79 702h1M82 702h1M88 702h3M92 702h12M106 702h1M108 702h1M114 702h1M118 702h1M124 702h1M54 703h1M62 703h1M80 703h1M84 703h1M86 703h2M90 703h2M93 703h7M102 703h1M106 703h1M108 703h1M110 703h1M113 703h2M59 704h2M72 704h1M79 704h1M82 704h1M85 704h2M88 704h7M97 704h1M99 704h5M105 704h1M107 704h1M111 704h2M117 704h1M50 705h1M81 705h4M90 705h3M94 705h4M101 705h1M103 705h2M106 705h2M32 706h1M59 706h1M66 706h1M71 706h2M78 706h1M80 706h1M82 706h1M87 706h2M91 706h1M93 706h1M96 706h6M104 706h1M106 706h2M109 706h2M112 706h1M114 706h1M116 706h2M72 707h1M75 707h2M78 707h1M82 707h1M86 707h1M88 707h1M90 707h3M98 707h2M108 707h1M110 707h2M113 707h1M72 708h1M74 708h2M77 708h1M79 708h2M86 708h1M90 708h1M92 708h1M96 708h1M98 708h1M101 708h2M106 708h1M110 708h1M114 708h1M119 708h2M124 708h1M57 709h1M74 709h1M77 709h1M85 709h1M90 709h1M94 709h3M98 709h2M101 709h1M103 709h1M105 709h1M108 709h1M111 709h1M113 709h1M61 710h1M72 710h1M80 710h1M83 710h1M87 710h2M90 710h1M95 710h1M97 710h1M101 710h3M107 710h2M110 710h3M120 710h1M126 710h1M70 711h1M77 711h1M80 711h1M82 711h2M87 711h2M90 711h2M93 711h3M97 711h2M103 711h2M106 711h1M108 711h1M115 711h2M123 711h1M57 712h1M80 712h2M86 712h1M91 712h1M93 712h1M97 712h1M99 712h1M103 712h3M107 712h1M111 712h1M63 713h1M72 713h1M77 713h1M82 713h1M85 713h1M90 713h4M95 713h2M98 713h1M100 713h1M102 713h3M107 713h1M125 713h1M68 714h1M80 714h4M87 714h3M94 714h3M99 714h1M101 714h1M103 714h1M119 714h1M123 714h1M60 715h1M68 715h1M75 715h2M82 715h1M85 715h3M96 715h1M100 715h1M102 715h1M104 715h1M106 715h1M109 715h1M111 715h2M115 715h4M60 716h1M69 716h1M76 716h1M78 716h1M88 716h1M91 716h1M93 716h1M96 716h2M99 716h3M103 716h1M106 716h2M115 716h1M119 716h1M43 717h1M66 717h1M79 717h2M84 717h1M87 717h1M89 717h1M91 717h2M101 717h1M103 717h1M106 717h1M115 717h1M117 717h1M131 717h1M57 718h1M78 718h1M81 718h1M84 718h1M87 718h1M101 718h1M106 718h1M108 718h1M114 718h1M116 718h1M121 718h1M59 719h1M62 719h1M77 719h1M82 719h1M86 719h1M90 719h1M92 719h2M100 719h3M104 719h1M110 719h1M116 719h1M118 719h1M64 720h1M73 720h2M77 720h1M80 720h1M82 720h1M89 720h1M91 720h1M95 720h1M97 720h1M101 720h2M111 720h1M82 721h1M87 721h2M91 721h1M94 721h1M96 721h1M98 721h2M105 721h1M107 721h1M109 721h1M112 721h1M116 721h2M56 722h1M86 722h1M89 722h2M93 722h1M98 722h1M103 722h1M108 722h1M112 722h1M118 722h1M74 723h1M78 723h2M86 723h1M90 723h3M100 723h1M109 723h1M64 724h1M89 724h1M98 724h1M102 724h1M109 724h1M116 724h1M62 725h1M65 725h1M86 725h1M89 725h1M93 725h1M95 725h1M98 725h1M105 725h1M107 725h1M111 725h1M115 725h1M84 726h1M88 726h1M110 726h1M57 727h1M84 727h1M92 727h2M101 727h1M104 727h2M109 727h2M68 728h1M94 728h2M100 728h1M105 728h1M110 728h1M74 729h1M92 729h1M105 729h1M85 730h1M97 730h2M105 730h1M49 731h1M81 731h1M96 731h1M100 731h1M113 731h1M119 731h1M76 732h1M79 732h1M104 732h1"/></defs><use href="#d5" fill="none" stroke="#000" stroke-width="2.2" stroke-linecap="square" opacity="0.13" transform="translate(0,0.5)"/><use href="#d5" fill="none" stroke="#000" stroke-width="1" transform="translate(0,0.5)" shape-rendering="crispEdges"/>
<rect x="25.5" y="578.3" width="154.1" height="155.0" fill="none" stroke="#000" stroke-width="1.25"/>
<path d="M25.5 733.3v4.3M25.5 733.3h-4.3M37.1 733.3v2.5M25.5 721.6h-2.5M43.9 733.3v2.5M25.5 714.8h-2.5M48.7 733.3v2.5M25.5 710.0h-2.5M52.4 733.3v2.5M25.5 706.2h-2.5M55.5 733.3v2.5M25.5 703.1h-2.5M58.1 733.3v2.5M25.5 700.6h-2.5M60.3 733.3v2.5M25.5 698.3h-2.5M62.3 733.3v2.5M25.5 696.3h-2.5M64.0 733.3v4.3M25.5 694.5h-4.3M75.6 733.3v2.5M25.5 682.9h-2.5M82.4 733.3v2.5M25.5 676.1h-2.5M87.2 733.3v2.5M25.5 671.2h-2.5M91.0 733.3v2.5M25.5 667.5h-2.5M94.0 733.3v2.5M25.5 664.4h-2.5M96.6 733.3v2.5M25.5 661.8h-2.5M98.8 733.3v2.5M25.5 659.6h-2.5M100.8 733.3v2.5M25.5 657.6h-2.5M102.5 733.3v4.3M25.5 655.8h-4.3M114.1 733.3v2.5M25.5 644.1h-2.5M120.9 733.3v2.5M25.5 637.3h-2.5M125.7 733.3v2.5M25.5 632.5h-2.5M129.5 733.3v2.5M25.5 628.7h-2.5M132.5 733.3v2.5M25.5 625.6h-2.5M135.1 733.3v2.5M25.5 623.1h-2.5M137.3 733.3v2.5M25.5 620.8h-2.5M139.3 733.3v2.5M25.5 618.8h-2.5M141.1 733.3v4.3M25.5 617.0h-4.3M152.7 733.3v2.5M25.5 605.4h-2.5M159.5 733.3v2.5M25.5 598.6h-2.5M164.3 733.3v2.5M25.5 593.7h-2.5M168.0 733.3v2.5M25.5 590.0h-2.5M171.1 733.3v2.5M25.5 586.9h-2.5M173.6 733.3v2.5M25.5 584.3h-2.5M175.9 733.3v2.5M25.5 582.1h-2.5M177.8 733.3v2.5M25.5 580.1h-2.5M179.6 733.3v4.3M25.5 578.3h-4.3" stroke="#000" stroke-width="1.05" fill="none"/>
<g class="ax">
<text transform="translate(29.5 749.2) scale(0.76 1)" font-size="10.3" text-anchor="end">10</text>
<text transform="translate(29.2 743.9) scale(0.85 1)" font-size="8.8">0</text>
<text transform="translate(18.0 739.9) rotate(-90) scale(0.85 1)" font-size="8.8">10</text>
<text transform="translate(13.3 729.7) rotate(-90) scale(1.15 1)" font-size="7.8">0</text>
<text transform="translate(67.3 749.2) scale(0.76 1)" font-size="10.3" text-anchor="end">10</text>
<text transform="translate(67.0 743.9) scale(0.85 1)" font-size="8.8">1</text>
<text transform="translate(18.0 701.1) rotate(-90) scale(0.85 1)" font-size="8.8">10</text>
<text transform="translate(13.3 690.9) rotate(-90) scale(1.15 1)" font-size="7.8">1</text>
<text transform="translate(105.1 749.2) scale(0.76 1)" font-size="10.3" text-anchor="end">10</text>
<text transform="translate(104.8 743.9) scale(0.85 1)" font-size="8.8">2</text>
<text transform="translate(18.0 662.4) rotate(-90) scale(0.85 1)" font-size="8.8">10</text>
<text transform="translate(13.3 652.2) rotate(-90) scale(1.15 1)" font-size="7.8">2</text>
<text transform="translate(143.0 749.2) scale(0.76 1)" font-size="10.3" text-anchor="end">10</text>
<text transform="translate(142.7 743.9) scale(0.85 1)" font-size="8.8">3</text>
<text transform="translate(18.0 623.6) rotate(-90) scale(0.85 1)" font-size="8.8">10</text>
<text transform="translate(13.3 613.4) rotate(-90) scale(1.15 1)" font-size="7.8">3</text>
<text transform="translate(180.8 749.2) scale(0.76 1)" font-size="10.3" text-anchor="end">10</text>
<text transform="translate(180.5 743.9) scale(0.85 1)" font-size="8.8">4</text>
<text transform="translate(18.0 584.9) rotate(-90) scale(0.85 1)" font-size="8.8">10</text>
<text transform="translate(13.3 574.7) rotate(-90) scale(1.15 1)" font-size="7.8">4</text>
<text x="7.1" y="657.5" font-size="8.9" text-anchor="middle" transform="rotate(-90 7.1 657.5)">CD38 PE</text>
<text transform="translate(102.4 759.6) scale(0.86 1)" font-size="9.6" text-anchor="middle">IgD-FITC</text>
</g>
<path d="M81.7 578.3V733.3M25.5 652H179.6" stroke="#000" stroke-width="1.5" fill="none"/>
<path d="M25.5 696.5H179.6" stroke="#000" stroke-width="2.5" fill="none"/>
<rect x="86.5" y="612.3" width="50.5" height="35.0" fill="none" stroke="#000" stroke-width="1.8"/>
<rect x="86.5" y="657" width="49.5" height="38.5" fill="none" stroke="#000" stroke-width="1.8"/>
<text x="144.2" y="636.7" font-size="10" text-anchor="start" font-weight="normal" fill="#000" stroke="#000" stroke-width="0.12">R6</text><text x="144.2" y="684.6" font-size="10" text-anchor="start" font-weight="normal" fill="#000" stroke="#000" stroke-width="0.12">R7</text>
<text x="163.4" y="600.9" font-size="17">+</text>
<text x="163.4" y="621.3" font-size="17">+</text>
<text x="162.0" y="676.3" font-size="17">+</text>
<text transform="translate(166.2 721.4) scale(1.25 1)" font-size="18" font-weight="bold">-</text>
</g>
<g id="pC">
<defs><pattern id="st" width="4" height="4.6" patternUnits="userSpaceOnUse" y="0.3"><rect width="4" height="4.6" fill="#fff"/><rect width="4" height="2.3" fill="#000"/></pattern>
<pattern id="gr" width="2" height="2" patternUnits="userSpaceOnUse"><rect width="2" height="2" fill="#c9c9c9"/><rect width="1" height="1" fill="#bdbdbd"/></pattern></defs>
<rect x="413.25" y="601.20" width="28.75" height="214.80" fill="#000"/>
<path d="M427.625 601.20V571.38M423.625 571.38H431.825" stroke="#000" stroke-width="1.6" fill="none"/>
<rect x="442" y="728.41" width="27.5" height="87.59" fill="url(#gr)"/>
<path d="M442 728.41H469.5" stroke="#000" stroke-width="1.3"/>
<path d="M455.75 728.41V694.42M451.75 694.42H459.95" stroke="#000" stroke-width="1.6" fill="none"/>
<rect x="470.1" y="677.50" width="27.3" height="138.50" fill="url(#st)" stroke="#000" stroke-width="1.3"/>
<path d="M483.75 676.90V661.68M479.75 661.68H487.95" stroke="#000" stroke-width="1.6" fill="none"/>
<rect x="285" y="813.50" width="28.75" height="2.50" fill="#000"/>
<path d="M299.375 813.50V813.29M295.375 813.29H303.575" stroke="#000" stroke-width="1.6" fill="none"/>
<rect x="313.75" y="812.66" width="28.25" height="3.34" fill="url(#gr)"/>
<path d="M313.75 812.66H342" stroke="#000" stroke-width="1.3"/>
<path d="M327.875 812.66V811.62M323.875 811.62H332.075" stroke="#000" stroke-width="1.6" fill="none"/>
<rect x="342.6" y="810.34" width="28.05" height="5.66" fill="url(#st)" stroke="#000" stroke-width="1.3"/>
<path d="M356.625 809.74V805.99M352.625 805.99H360.825" stroke="#000" stroke-width="1.6" fill="none"/>
<path d="M265.2 546V816.0H520" stroke="#7a7a7a" stroke-width="1.1" fill="none"/>
<text x="252.6" y="820.40" font-size="11" text-anchor="end" fill="#1a1a1a">0</text>
<text x="252.6" y="778.69" font-size="11" text-anchor="end" fill="#1a1a1a">20</text>
<text x="252.6" y="736.98" font-size="11" text-anchor="end" fill="#1a1a1a">40</text>
<text x="252.6" y="695.27" font-size="11" text-anchor="end" fill="#1a1a1a">60</text>
<text x="252.6" y="653.57" font-size="11" text-anchor="end" fill="#1a1a1a">80</text>
<text x="252.6" y="611.86" font-size="11" text-anchor="end" fill="#1a1a1a">100</text>
<text x="252.6" y="570.15" font-size="11" text-anchor="end" fill="#1a1a1a">120</text>
<path d="M260.9 816.00H265.2M260.9 774.29H265.2M260.9 732.58H265.2M260.9 690.88H265.2M260.9 649.17H265.2M260.9 607.46H265.2M260.9 565.75H265.2M265.2 816.0v4.2M392.9 816.0v4.2M519.4 816.0v4.2" stroke="#8a8a8a" stroke-width="1" fill="none"/>
<text x="330" y="838.2" font-size="11.4" text-anchor="middle" font-weight="normal" fill="#1a1a1a">CD3</text>
<text x="461.9" y="838.2" font-size="11.4" text-anchor="middle" font-weight="normal" fill="#1a1a1a">CD3+IL-2</text>
<text x="216.2" y="750.8" font-size="13" font-weight="bold" transform="rotate(-90 216.2 750.8)">[<tspan font-size="9" dy="-5.2">3</tspan><tspan dy="5.2">H] TdR (cpm) x 10</tspan><tspan font-size="9" dy="-5.2">3</tspan></text>
</g>
</svg></body></html>
